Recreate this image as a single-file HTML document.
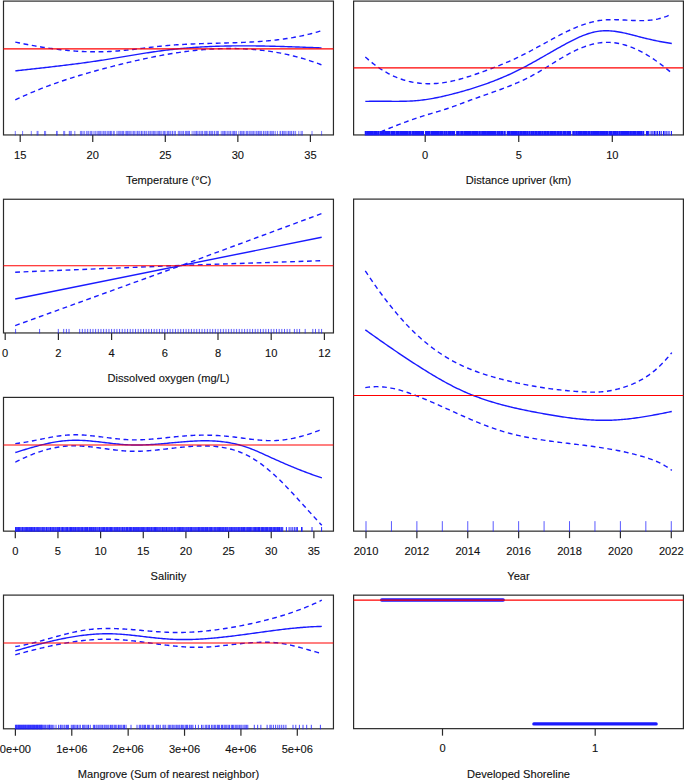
<!DOCTYPE html>
<html><head><meta charset="utf-8"><style>
html,body{margin:0;padding:0;background:#fff;overflow:hidden;width:685px;height:781px;}
svg{display:block;}
text{font-family:"Liberation Sans",sans-serif;font-size:11.1px;fill:#111;stroke:#111;stroke-width:0.12px;}
</style></head><body>
<svg width="685" height="781" viewBox="0 0 685 781">
<rect width="685" height="781" fill="#fff"/>
<rect x="3.5" y="1.1" width="329.95" height="133.85" fill="none" stroke="#2a2a2a" stroke-width="1.2"/>
<path d="M15.30,70.89 L16.81,70.72 L18.32,70.56 L19.83,70.39 L21.33,70.22 L22.84,70.05 L24.35,69.89 L25.86,69.72 L27.37,69.55 L28.88,69.39 L30.38,69.22 L31.89,69.05 L33.40,68.89 L34.91,68.72 L36.42,68.55 L37.93,68.38 L39.43,68.21 L40.94,68.04 L42.45,67.88 L43.96,67.71 L45.47,67.53 L46.98,67.36 L48.48,67.19 L49.99,67.02 L51.50,66.85 L53.01,66.67 L54.52,66.50 L56.03,66.32 L57.53,66.14 L59.04,65.96 L60.55,65.78 L62.06,65.60 L63.57,65.42 L65.08,65.24 L66.58,65.05 L68.09,64.87 L69.60,64.68 L71.11,64.49 L72.62,64.30 L74.13,64.11 L75.63,63.91 L77.14,63.72 L78.65,63.52 L80.16,63.32 L81.67,63.12 L83.18,62.91 L84.69,62.71 L86.19,62.50 L87.70,62.29 L89.21,62.08 L90.72,61.87 L92.23,61.65 L93.74,61.43 L95.24,61.21 L96.75,60.99 L98.26,60.76 L99.77,60.53 L101.28,60.30 L102.79,60.07 L104.29,59.83 L105.80,59.59 L107.31,59.35 L108.82,59.11 L110.33,58.87 L111.84,58.62 L113.34,58.37 L114.85,58.13 L116.36,57.88 L117.87,57.63 L119.38,57.38 L120.89,57.13 L122.39,56.87 L123.90,56.62 L125.41,56.37 L126.92,56.12 L128.43,55.87 L129.94,55.62 L131.44,55.37 L132.95,55.12 L134.46,54.87 L135.97,54.62 L137.48,54.38 L138.99,54.13 L140.50,53.89 L142.00,53.65 L143.51,53.41 L145.02,53.17 L146.53,52.93 L148.04,52.70 L149.55,52.47 L151.05,52.24 L152.56,52.02 L154.07,51.80 L155.58,51.58 L157.09,51.36 L158.60,51.15 L160.10,50.94 L161.61,50.74 L163.12,50.54 L164.63,50.34 L166.14,50.15 L167.65,49.96 L169.15,49.78 L170.66,49.60 L172.17,49.43 L173.68,49.26 L175.19,49.10 L176.70,48.94 L178.20,48.78 L179.71,48.63 L181.22,48.49 L182.73,48.35 L184.24,48.21 L185.75,48.08 L187.25,47.95 L188.76,47.83 L190.27,47.71 L191.78,47.60 L193.29,47.49 L194.80,47.38 L196.30,47.28 L197.81,47.18 L199.32,47.09 L200.83,47.00 L202.34,46.91 L203.85,46.83 L205.36,46.75 L206.86,46.68 L208.37,46.61 L209.88,46.54 L211.39,46.47 L212.90,46.41 L214.41,46.36 L215.91,46.30 L217.42,46.25 L218.93,46.20 L220.44,46.16 L221.95,46.12 L223.46,46.08 L224.96,46.05 L226.47,46.01 L227.98,45.99 L229.49,45.96 L231.00,45.94 L232.51,45.92 L234.01,45.90 L235.52,45.89 L237.03,45.87 L238.54,45.86 L240.05,45.86 L241.56,45.85 L243.06,45.85 L244.57,45.85 L246.08,45.86 L247.59,45.86 L249.10,45.87 L250.61,45.88 L252.11,45.89 L253.62,45.91 L255.13,45.92 L256.64,45.94 L258.15,45.96 L259.66,45.98 L261.17,46.01 L262.67,46.03 L264.18,46.06 L265.69,46.09 L267.20,46.12 L268.71,46.15 L270.22,46.19 L271.72,46.22 L273.23,46.26 L274.74,46.30 L276.25,46.34 L277.76,46.38 L279.27,46.42 L280.77,46.46 L282.28,46.51 L283.79,46.55 L285.30,46.60 L286.81,46.65 L288.32,46.70 L289.82,46.75 L291.33,46.80 L292.84,46.85 L294.35,46.90 L295.86,46.95 L297.37,47.01 L298.87,47.06 L300.38,47.11 L301.89,47.17 L303.40,47.22 L304.91,47.28 L306.42,47.33 L307.92,47.39 L309.43,47.45 L310.94,47.50 L312.45,47.56 L313.96,47.62 L315.47,47.67 L316.97,47.73 L318.48,47.79 L319.99,47.84 L321.50,47.90" fill="none" stroke="#1a1aff" stroke-width="1.4"/>
<path d="M15.30,42.12 L16.81,42.44 L18.32,42.75 L19.83,43.06 L21.33,43.36 L22.84,43.67 L24.35,43.96 L25.86,44.26 L27.37,44.54 L28.88,44.83 L30.38,45.11 L31.89,45.38 L33.40,45.66 L34.91,45.92 L36.42,46.19 L37.93,46.44 L39.43,46.70 L40.94,46.94 L42.45,47.19 L43.96,47.43 L45.47,47.66 L46.98,47.89 L48.48,48.11 L49.99,48.32 L51.50,48.53 L53.01,48.74 L54.52,48.94 L56.03,49.13 L57.53,49.32 L59.04,49.50 L60.55,49.68 L62.06,49.85 L63.57,50.01 L65.08,50.17 L66.58,50.32 L68.09,50.46 L69.60,50.60 L71.11,50.73 L72.62,50.85 L74.13,50.97 L75.63,51.08 L77.14,51.18 L78.65,51.28 L80.16,51.37 L81.67,51.45 L83.18,51.52 L84.69,51.59 L86.19,51.64 L87.70,51.69 L89.21,51.74 L90.72,51.77 L92.23,51.80 L93.74,51.81 L95.24,51.82 L96.75,51.83 L98.26,51.82 L99.77,51.80 L101.28,51.78 L102.79,51.75 L104.29,51.71 L105.80,51.66 L107.31,51.60 L108.82,51.53 L110.33,51.45 L111.84,51.37 L113.34,51.27 L114.85,51.17 L116.36,51.06 L117.87,50.94 L119.38,50.82 L120.89,50.69 L122.39,50.55 L123.90,50.40 L125.41,50.26 L126.92,50.10 L128.43,49.94 L129.94,49.78 L131.44,49.61 L132.95,49.44 L134.46,49.27 L135.97,49.09 L137.48,48.92 L138.99,48.73 L140.50,48.55 L142.00,48.37 L143.51,48.18 L145.02,48.00 L146.53,47.82 L148.04,47.63 L149.55,47.45 L151.05,47.27 L152.56,47.09 L154.07,46.91 L155.58,46.74 L157.09,46.57 L158.60,46.40 L160.10,46.24 L161.61,46.08 L163.12,45.93 L164.63,45.78 L166.14,45.64 L167.65,45.50 L169.15,45.37 L170.66,45.25 L172.17,45.13 L173.68,45.02 L175.19,44.91 L176.70,44.80 L178.20,44.70 L179.71,44.61 L181.22,44.52 L182.73,44.43 L184.24,44.35 L185.75,44.27 L187.25,44.20 L188.76,44.12 L190.27,44.06 L191.78,43.99 L193.29,43.93 L194.80,43.87 L196.30,43.81 L197.81,43.76 L199.32,43.71 L200.83,43.66 L202.34,43.61 L203.85,43.56 L205.36,43.52 L206.86,43.47 L208.37,43.43 L209.88,43.39 L211.39,43.35 L212.90,43.31 L214.41,43.27 L215.91,43.23 L217.42,43.19 L218.93,43.15 L220.44,43.12 L221.95,43.08 L223.46,43.04 L224.96,43.00 L226.47,42.95 L227.98,42.91 L229.49,42.87 L231.00,42.82 L232.51,42.78 L234.01,42.73 L235.52,42.68 L237.03,42.63 L238.54,42.57 L240.05,42.52 L241.56,42.46 L243.06,42.39 L244.57,42.33 L246.08,42.26 L247.59,42.19 L249.10,42.11 L250.61,42.03 L252.11,41.95 L253.62,41.86 L255.13,41.77 L256.64,41.68 L258.15,41.58 L259.66,41.47 L261.17,41.36 L262.67,41.25 L264.18,41.13 L265.69,41.00 L267.20,40.87 L268.71,40.73 L270.22,40.59 L271.72,40.44 L273.23,40.28 L274.74,40.12 L276.25,39.95 L277.76,39.77 L279.27,39.59 L280.77,39.40 L282.28,39.20 L283.79,38.99 L285.30,38.77 L286.81,38.55 L288.32,38.32 L289.82,38.08 L291.33,37.83 L292.84,37.57 L294.35,37.30 L295.86,37.02 L297.37,36.73 L298.87,36.44 L300.38,36.13 L301.89,35.81 L303.40,35.49 L304.91,35.15 L306.42,34.80 L307.92,34.44 L309.43,34.08 L310.94,33.70 L312.45,33.31 L313.96,32.90 L315.47,32.49 L316.97,32.06 L318.48,31.63 L319.99,31.18 L321.50,30.72" fill="none" stroke="#1a1aff" stroke-width="1.4" stroke-dasharray="4.8 3.6"/>
<path d="M15.30,99.91 L16.81,99.19 L18.32,98.47 L19.83,97.77 L21.33,97.07 L22.84,96.38 L24.35,95.70 L25.86,95.03 L27.37,94.37 L28.88,93.71 L30.38,93.06 L31.89,92.42 L33.40,91.79 L34.91,91.16 L36.42,90.54 L37.93,89.93 L39.43,89.32 L40.94,88.72 L42.45,88.13 L43.96,87.55 L45.47,86.97 L46.98,86.40 L48.48,85.84 L49.99,85.28 L51.50,84.73 L53.01,84.18 L54.52,83.64 L56.03,83.11 L57.53,82.58 L59.04,82.05 L60.55,81.54 L62.06,81.03 L63.57,80.52 L65.08,80.02 L66.58,79.52 L68.09,79.03 L69.60,78.55 L71.11,78.07 L72.62,77.59 L74.13,77.12 L75.63,76.66 L77.14,76.19 L78.65,75.74 L80.16,75.28 L81.67,74.83 L83.18,74.39 L84.69,73.95 L86.19,73.51 L87.70,73.08 L89.21,72.65 L90.72,72.22 L92.23,71.80 L93.74,71.38 L95.24,70.96 L96.75,70.55 L98.26,70.14 L99.77,69.73 L101.28,69.32 L102.79,68.92 L104.29,68.52 L105.80,68.12 L107.31,67.73 L108.82,67.34 L110.33,66.95 L111.84,66.56 L113.34,66.17 L114.85,65.79 L116.36,65.41 L117.87,65.03 L119.38,64.65 L120.89,64.28 L122.39,63.90 L123.90,63.53 L125.41,63.17 L126.92,62.80 L128.43,62.44 L129.94,62.08 L131.44,61.72 L132.95,61.37 L134.46,61.02 L135.97,60.67 L137.48,60.33 L138.99,59.99 L140.50,59.65 L142.00,59.32 L143.51,58.99 L145.02,58.66 L146.53,58.34 L148.04,58.02 L149.55,57.71 L151.05,57.40 L152.56,57.09 L154.07,56.79 L155.58,56.49 L157.09,56.19 L158.60,55.90 L160.10,55.62 L161.61,55.34 L163.12,55.06 L164.63,54.79 L166.14,54.52 L167.65,54.26 L169.15,54.01 L170.66,53.75 L172.17,53.51 L173.68,53.26 L175.19,53.03 L176.70,52.80 L178.20,52.57 L179.71,52.35 L181.22,52.13 L182.73,51.92 L184.24,51.72 L185.75,51.52 L187.25,51.33 L188.76,51.14 L190.27,50.96 L191.78,50.79 L193.29,50.62 L194.80,50.45 L196.30,50.29 L197.81,50.14 L199.32,50.00 L200.83,49.86 L202.34,49.73 L203.85,49.60 L205.36,49.48 L206.86,49.37 L208.37,49.26 L209.88,49.16 L211.39,49.07 L212.90,48.98 L214.41,48.90 L215.91,48.83 L217.42,48.77 L218.93,48.71 L220.44,48.66 L221.95,48.61 L223.46,48.57 L224.96,48.54 L226.47,48.52 L227.98,48.51 L229.49,48.50 L231.00,48.50 L232.51,48.51 L234.01,48.52 L235.52,48.55 L237.03,48.58 L238.54,48.62 L240.05,48.66 L241.56,48.72 L243.06,48.78 L244.57,48.85 L246.08,48.93 L247.59,49.02 L249.10,49.12 L250.61,49.22 L252.11,49.34 L253.62,49.46 L255.13,49.59 L256.64,49.73 L258.15,49.87 L259.66,50.03 L261.17,50.20 L262.67,50.37 L264.18,50.55 L265.69,50.75 L267.20,50.95 L268.71,51.16 L270.22,51.38 L271.72,51.61 L273.23,51.85 L274.74,52.09 L276.25,52.35 L277.76,52.62 L279.27,52.90 L280.77,53.18 L282.28,53.48 L283.79,53.78 L285.30,54.10 L286.81,54.43 L288.32,54.76 L289.82,55.11 L291.33,55.46 L292.84,55.83 L294.35,56.21 L295.86,56.60 L297.37,56.99 L298.87,57.40 L300.38,57.82 L301.89,58.25 L303.40,58.69 L304.91,59.14 L306.42,59.60 L307.92,60.07 L309.43,60.56 L310.94,61.05 L312.45,61.56 L313.96,62.07 L315.47,62.60 L316.97,63.14 L318.48,63.69 L319.99,64.25 L321.50,64.83" fill="none" stroke="#1a1aff" stroke-width="1.4" stroke-dasharray="4.8 3.6"/>
<line x1="20.20" y1="134.95" x2="20.20" y2="141.95" stroke="#2a2a2a" stroke-width="1.2"/>
<text x="20.20" y="158.75" text-anchor="middle">15</text>
<line x1="92.75" y1="134.95" x2="92.75" y2="141.95" stroke="#2a2a2a" stroke-width="1.2"/>
<text x="92.75" y="158.75" text-anchor="middle">20</text>
<line x1="165.30" y1="134.95" x2="165.30" y2="141.95" stroke="#2a2a2a" stroke-width="1.2"/>
<text x="165.30" y="158.75" text-anchor="middle">25</text>
<line x1="237.85" y1="134.95" x2="237.85" y2="141.95" stroke="#2a2a2a" stroke-width="1.2"/>
<text x="237.85" y="158.75" text-anchor="middle">30</text>
<line x1="310.40" y1="134.95" x2="310.40" y2="141.95" stroke="#2a2a2a" stroke-width="1.2"/>
<text x="310.40" y="158.75" text-anchor="middle">35</text>
<text x="168.5" y="184.35" text-anchor="middle">Temperature (°C)</text>
<path d="M15.30,130.95V135.45M22.60,130.95V135.45M31.30,130.95V135.45M37.10,130.95V135.45M38.00,130.95V135.45M44.50,130.95V135.45M45.60,130.95V135.45M56.50,130.95V135.45M57.30,130.95V135.45M63.70,130.95V135.45M64.70,130.95V135.45M69.30,130.95V135.45M70.20,130.95V135.45M71.30,130.95V135.45M74.80,130.95V135.45M80.42,130.95V135.45M81.56,130.95V135.45M82.99,130.95V135.45M84.31,130.95V135.45M86.36,130.95V135.45M87.84,130.95V135.45M88.80,130.95V135.45M90.40,130.95V135.45M91.56,130.95V135.45M93.08,130.95V135.45M94.93,130.95V135.45M95.99,130.95V135.45M97.75,130.95V135.45M98.77,130.95V135.45M99.80,130.95V135.45M100.75,130.95V135.45M102.06,130.95V135.45M103.44,130.95V135.45M104.77,130.95V135.45M105.74,130.95V135.45M107.26,130.95V135.45M108.36,130.95V135.45M109.80,130.95V135.45M110.53,130.95V135.45M111.59,130.95V135.45M113.31,130.95V135.45M114.29,130.95V135.45M116.91,130.95V135.45M118.20,130.95V135.45M119.26,130.95V135.45M120.36,130.95V135.45M121.77,130.95V135.45M122.68,130.95V135.45M123.55,130.95V135.45M125.22,130.95V135.45M126.56,130.95V135.45M127.41,130.95V135.45M128.32,130.95V135.45M129.63,130.95V135.45M130.75,130.95V135.45M132.00,130.95V135.45M133.41,130.95V135.45M134.36,130.95V135.45M135.94,130.95V135.45M137.36,130.95V135.45M138.12,130.95V135.45M139.39,130.95V135.45M141.07,130.95V135.45M141.64,130.95V135.45M142.89,130.95V135.45M144.37,130.95V135.45M145.10,130.95V135.45M146.60,130.95V135.45M148.26,130.95V135.45M149.11,130.95V135.45M150.44,130.95V135.45M151.82,130.95V135.45M153.00,130.95V135.45M153.81,130.95V135.45M154.78,130.95V135.45M155.95,130.95V135.45M157.27,130.95V135.45M158.57,130.95V135.45M159.50,130.95V135.45M160.78,130.95V135.45M161.92,130.95V135.45M163.59,130.95V135.45M164.50,130.95V135.45M165.79,130.95V135.45M167.38,130.95V135.45M168.27,130.95V135.45M169.17,130.95V135.45M170.57,130.95V135.45M172.16,130.95V135.45M172.72,130.95V135.45M174.32,130.95V135.45M175.53,130.95V135.45M178.28,130.95V135.45M179.26,130.95V135.45M180.19,130.95V135.45M181.72,130.95V135.45M182.92,130.95V135.45M183.68,130.95V135.45M185.49,130.95V135.45M186.54,130.95V135.45M187.69,130.95V135.45M188.71,130.95V135.45M189.52,130.95V135.45M192.11,130.95V135.45M193.87,130.95V135.45M195.05,130.95V135.45M196.26,130.95V135.45M196.88,130.95V135.45M198.06,130.95V135.45M199.60,130.95V135.45M200.97,130.95V135.45M202.02,130.95V135.45M202.77,130.95V135.45M204.63,130.95V135.45M205.70,130.95V135.45M206.44,130.95V135.45M207.77,130.95V135.45M209.48,130.95V135.45M210.22,130.95V135.45M211.68,130.95V135.45M212.40,130.95V135.45M214.22,130.95V135.45M214.82,130.95V135.45M216.68,130.95V135.45M217.38,130.95V135.45M218.40,130.95V135.45M221.22,130.95V135.45M222.65,130.95V135.45M223.80,130.95V135.45M224.47,130.95V135.45M225.73,130.95V135.45M227.17,130.95V135.45M228.24,130.95V135.45M229.83,130.95V135.45M230.67,130.95V135.45M232.22,130.95V135.45M233.43,130.95V135.45M234.33,130.95V135.45M235.11,130.95V135.45M236.45,130.95V135.45M238.84,130.95V135.45M240.48,130.95V135.45M241.36,130.95V135.45M242.74,130.95V135.45M243.58,130.95V135.45M244.90,130.95V135.45M246.52,130.95V135.45M247.55,130.95V135.45M249.03,130.95V135.45M249.99,130.95V135.45M251.11,130.95V135.45M252.26,130.95V135.45M253.48,130.95V135.45M254.86,130.95V135.45M256.25,130.95V135.45M257.15,130.95V135.45M258.57,130.95V135.45M259.20,130.95V135.45M260.36,130.95V135.45M261.56,130.95V135.45M263.33,130.95V135.45M264.02,130.95V135.45M265.63,130.95V135.45M267.01,130.95V135.45M267.68,130.95V135.45M269.02,130.95V135.45M270.69,130.95V135.45M271.23,130.95V135.45M272.71,130.95V135.45M273.66,130.95V135.45M275.28,130.95V135.45M277.45,130.95V135.45M280.00,130.95V135.45M280.75,130.95V135.45M282.53,130.95V135.45M283.18,130.95V135.45M284.33,130.95V135.45M285.72,130.95V135.45M287.04,130.95V135.45M288.56,130.95V135.45M289.22,130.95V135.45M290.76,130.95V135.45M291.57,130.95V135.45M293.25,130.95V135.45M293.96,130.95V135.45M295.61,130.95V135.45M298.80,130.95V135.45M301.10,130.95V135.45M302.30,130.95V135.45M312.00,130.95V135.45M321.60,130.95V135.45" stroke="#1a1aff" stroke-width="0.9" fill="none" stroke-opacity="0.65"/>
<rect x="353.6" y="1.1" width="329.80" height="133.85" fill="none" stroke="#2a2a2a" stroke-width="1.2"/>
<clipPath id="c2"><rect x="353.6" y="1.1" width="329.79999999999995" height="133.85"/></clipPath>
<path d="M365.30,101.42 L366.81,101.37 L368.32,101.33 L369.83,101.29 L371.34,101.27 L372.85,101.25 L374.36,101.24 L375.87,101.23 L377.38,101.23 L378.89,101.23 L380.40,101.24 L381.91,101.24 L383.42,101.26 L384.93,101.27 L386.44,101.28 L387.95,101.29 L389.46,101.31 L390.97,101.32 L392.48,101.33 L393.99,101.33 L395.50,101.34 L397.01,101.33 L398.52,101.33 L400.03,101.32 L401.54,101.30 L403.05,101.27 L404.56,101.24 L406.07,101.20 L407.58,101.15 L409.09,101.09 L410.60,101.02 L412.11,100.94 L413.62,100.84 L415.13,100.74 L416.63,100.62 L418.14,100.48 L419.65,100.33 L421.16,100.17 L422.67,99.99 L424.18,99.80 L425.69,99.59 L427.20,99.37 L428.71,99.13 L430.22,98.88 L431.73,98.62 L433.24,98.35 L434.75,98.06 L436.26,97.77 L437.77,97.46 L439.28,97.15 L440.79,96.82 L442.30,96.49 L443.81,96.14 L445.32,95.79 L446.83,95.43 L448.34,95.07 L449.85,94.69 L451.36,94.31 L452.87,93.93 L454.38,93.54 L455.89,93.14 L457.40,92.74 L458.91,92.33 L460.42,91.92 L461.93,91.50 L463.44,91.07 L464.95,90.64 L466.46,90.20 L467.97,89.76 L469.48,89.31 L470.99,88.85 L472.50,88.38 L474.01,87.91 L475.52,87.43 L477.03,86.94 L478.54,86.45 L480.05,85.94 L481.56,85.43 L483.07,84.91 L484.58,84.39 L486.09,83.85 L487.60,83.31 L489.11,82.76 L490.62,82.20 L492.13,81.63 L493.64,81.05 L495.15,80.46 L496.66,79.86 L498.17,79.26 L499.68,78.64 L501.19,78.01 L502.70,77.38 L504.21,76.73 L505.72,76.08 L507.23,75.41 L508.74,74.74 L510.25,74.05 L511.76,73.35 L513.27,72.64 L514.78,71.93 L516.29,71.20 L517.80,70.45 L519.30,69.70 L520.81,68.94 L522.32,68.16 L523.83,67.38 L525.34,66.58 L526.85,65.77 L528.36,64.96 L529.87,64.14 L531.38,63.31 L532.89,62.47 L534.40,61.63 L535.91,60.78 L537.42,59.93 L538.93,59.08 L540.44,58.22 L541.95,57.35 L543.46,56.49 L544.97,55.62 L546.48,54.76 L547.99,53.89 L549.50,53.02 L551.01,52.16 L552.52,51.29 L554.03,50.43 L555.54,49.57 L557.05,48.72 L558.56,47.87 L560.07,47.02 L561.58,46.18 L563.09,45.35 L564.60,44.52 L566.11,43.71 L567.62,42.90 L569.13,42.10 L570.64,41.32 L572.15,40.55 L573.66,39.79 L575.17,39.06 L576.68,38.34 L578.19,37.65 L579.70,36.98 L581.21,36.33 L582.72,35.71 L584.23,35.12 L585.74,34.56 L587.25,34.03 L588.76,33.54 L590.27,33.08 L591.78,32.65 L593.29,32.26 L594.80,31.92 L596.31,31.61 L597.82,31.35 L599.33,31.13 L600.84,30.96 L602.35,30.84 L603.86,30.76 L605.37,30.72 L606.88,30.72 L608.39,30.76 L609.90,30.84 L611.41,30.95 L612.92,31.10 L614.43,31.27 L615.94,31.47 L617.45,31.70 L618.96,31.95 L620.47,32.23 L621.97,32.53 L623.48,32.84 L624.99,33.17 L626.50,33.52 L628.01,33.88 L629.52,34.25 L631.03,34.63 L632.54,35.01 L634.05,35.40 L635.56,35.79 L637.07,36.19 L638.58,36.58 L640.09,36.97 L641.60,37.35 L643.11,37.73 L644.62,38.10 L646.13,38.47 L647.64,38.83 L649.15,39.18 L650.66,39.53 L652.17,39.87 L653.68,40.20 L655.19,40.53 L656.70,40.84 L658.21,41.15 L659.72,41.45 L661.23,41.74 L662.74,42.01 L664.25,42.28 L665.76,42.54 L667.27,42.79 L668.78,43.03 L670.29,43.26 L671.80,43.47" fill="none" stroke="#1a1aff" stroke-width="1.4"/>
<path d="M365.30,56.93 L366.81,58.30 L368.32,59.62 L369.83,60.90 L371.34,62.15 L372.85,63.35 L374.36,64.52 L375.87,65.65 L377.38,66.73 L378.89,67.78 L380.40,68.80 L381.91,69.77 L383.42,70.71 L384.93,71.61 L386.44,72.48 L387.95,73.31 L389.46,74.11 L390.97,74.87 L392.48,75.59 L393.99,76.29 L395.50,76.95 L397.01,77.57 L398.52,78.16 L400.03,78.72 L401.54,79.25 L403.05,79.75 L404.56,80.21 L406.07,80.65 L407.58,81.05 L409.09,81.43 L410.60,81.77 L412.11,82.08 L413.62,82.37 L415.13,82.63 L416.63,82.86 L418.14,83.06 L419.65,83.23 L421.16,83.38 L422.67,83.50 L424.18,83.59 L425.69,83.66 L427.20,83.71 L428.71,83.72 L430.22,83.72 L431.73,83.69 L433.24,83.63 L434.75,83.55 L436.26,83.45 L437.77,83.33 L439.28,83.18 L440.79,83.02 L442.30,82.83 L443.81,82.62 L445.32,82.39 L446.83,82.13 L448.34,81.86 L449.85,81.57 L451.36,81.26 L452.87,80.94 L454.38,80.59 L455.89,80.23 L457.40,79.84 L458.91,79.45 L460.42,79.04 L461.93,78.61 L463.44,78.17 L464.95,77.72 L466.46,77.26 L467.97,76.78 L469.48,76.30 L470.99,75.80 L472.50,75.30 L474.01,74.79 L475.52,74.27 L477.03,73.75 L478.54,73.22 L480.05,72.68 L481.56,72.15 L483.07,71.60 L484.58,71.06 L486.09,70.51 L487.60,69.95 L489.11,69.39 L490.62,68.83 L492.13,68.26 L493.64,67.68 L495.15,67.10 L496.66,66.51 L498.17,65.91 L499.68,65.31 L501.19,64.70 L502.70,64.09 L504.21,63.46 L505.72,62.83 L507.23,62.19 L508.74,61.54 L510.25,60.88 L511.76,60.21 L513.27,59.53 L514.78,58.84 L516.29,58.13 L517.80,57.42 L519.30,56.69 L520.81,55.96 L522.32,55.21 L523.83,54.45 L525.34,53.67 L526.85,52.89 L528.36,52.10 L529.87,51.31 L531.38,50.50 L532.89,49.69 L534.40,48.87 L535.91,48.05 L537.42,47.23 L538.93,46.40 L540.44,45.57 L541.95,44.74 L543.46,43.91 L544.97,43.08 L546.48,42.25 L547.99,41.42 L549.50,40.60 L551.01,39.78 L552.52,38.96 L554.03,38.15 L555.54,37.34 L557.05,36.54 L558.56,35.75 L560.07,34.97 L561.58,34.20 L563.09,33.43 L564.60,32.68 L566.11,31.94 L567.62,31.21 L569.13,30.50 L570.64,29.80 L572.15,29.12 L573.66,28.45 L575.17,27.81 L576.68,27.18 L578.19,26.56 L579.70,25.97 L581.21,25.41 L582.72,24.86 L584.23,24.33 L585.74,23.83 L587.25,23.36 L588.76,22.91 L590.27,22.49 L591.78,22.09 L593.29,21.72 L594.80,21.38 L596.31,21.08 L597.82,20.80 L599.33,20.56 L600.84,20.35 L602.35,20.17 L603.86,20.02 L605.37,19.90 L606.88,19.81 L608.39,19.74 L609.90,19.69 L611.41,19.67 L612.92,19.66 L614.43,19.67 L615.94,19.70 L617.45,19.74 L618.96,19.79 L620.47,19.85 L621.97,19.92 L623.48,19.99 L624.99,20.07 L626.50,20.15 L628.01,20.23 L629.52,20.31 L631.03,20.38 L632.54,20.45 L634.05,20.51 L635.56,20.56 L637.07,20.60 L638.58,20.63 L640.09,20.64 L641.60,20.63 L643.11,20.61 L644.62,20.56 L646.13,20.49 L647.64,20.39 L649.15,20.27 L650.66,20.12 L652.17,19.94 L653.68,19.73 L655.19,19.48 L656.70,19.20 L658.21,18.88 L659.72,18.51 L661.23,18.11 L662.74,17.66 L664.25,17.17 L665.76,16.62 L667.27,16.03 L668.78,15.39 L670.29,14.69 L671.80,13.94" fill="none" stroke="#1a1aff" stroke-width="1.4" stroke-dasharray="4.8 3.6"/>
<path d="M365.30,138.61 L366.81,137.95 L368.32,137.28 L369.83,136.61 L371.34,135.95 L372.85,135.29 L374.36,134.64 L375.87,133.98 L377.38,133.33 L378.89,132.68 L380.40,132.04 L381.91,131.40 L383.42,130.76 L384.93,130.13 L386.44,129.50 L387.95,128.88 L389.46,128.26 L390.97,127.64 L392.48,127.03 L393.99,126.43 L395.50,125.83 L397.01,125.23 L398.52,124.65 L400.03,124.06 L401.54,123.49 L403.05,122.92 L404.56,122.35 L406.07,121.79 L407.58,121.24 L409.09,120.70 L410.60,120.16 L412.11,119.63 L413.62,119.11 L415.13,118.59 L416.63,118.09 L418.14,117.59 L419.65,117.10 L421.16,116.61 L422.67,116.14 L424.18,115.67 L425.69,115.21 L427.20,114.75 L428.71,114.29 L430.22,113.84 L431.73,113.39 L433.24,112.94 L434.75,112.49 L436.26,112.04 L437.77,111.59 L439.28,111.13 L440.79,110.67 L442.30,110.21 L443.81,109.73 L445.32,109.25 L446.83,108.77 L448.34,108.27 L449.85,107.76 L451.36,107.24 L452.87,106.71 L454.38,106.17 L455.89,105.61 L457.40,105.05 L458.91,104.48 L460.42,103.90 L461.93,103.33 L463.44,102.75 L464.95,102.18 L466.46,101.61 L467.97,101.05 L469.48,100.49 L470.99,99.94 L472.50,99.40 L474.01,98.86 L475.52,98.32 L477.03,97.79 L478.54,97.25 L480.05,96.72 L481.56,96.20 L483.07,95.67 L484.58,95.14 L486.09,94.62 L487.60,94.09 L489.11,93.56 L490.62,93.03 L492.13,92.50 L493.64,91.96 L495.15,91.43 L496.66,90.88 L498.17,90.34 L499.68,89.78 L501.19,89.22 L502.70,88.66 L504.21,88.09 L505.72,87.51 L507.23,86.92 L508.74,86.33 L510.25,85.73 L511.76,85.11 L513.27,84.49 L514.78,83.85 L516.29,83.21 L517.80,82.55 L519.30,81.88 L520.81,81.20 L522.32,80.50 L523.83,79.79 L525.34,79.07 L526.85,78.33 L528.36,77.57 L529.87,76.80 L531.38,76.01 L532.89,75.20 L534.40,74.38 L535.91,73.54 L537.42,72.68 L538.93,71.80 L540.44,70.91 L541.95,70.01 L543.46,69.10 L544.97,68.18 L546.48,67.26 L547.99,66.33 L549.50,65.39 L551.01,64.46 L552.52,63.52 L554.03,62.58 L555.54,61.65 L557.05,60.73 L558.56,59.81 L560.07,58.90 L561.58,58.00 L563.09,57.11 L564.60,56.23 L566.11,55.37 L567.62,54.53 L569.13,53.70 L570.64,52.90 L572.15,52.12 L573.66,51.36 L575.17,50.63 L576.68,49.92 L578.19,49.24 L579.70,48.58 L581.21,47.96 L582.72,47.36 L584.23,46.79 L585.74,46.25 L587.25,45.75 L588.76,45.27 L590.27,44.83 L591.78,44.42 L593.29,44.05 L594.80,43.71 L596.31,43.41 L597.82,43.14 L599.33,42.91 L600.84,42.72 L602.35,42.57 L603.86,42.46 L605.37,42.39 L606.88,42.36 L608.39,42.37 L609.90,42.42 L611.41,42.51 L612.92,42.64 L614.43,42.81 L615.94,43.01 L617.45,43.26 L618.96,43.54 L620.47,43.85 L621.97,44.21 L623.48,44.60 L624.99,45.02 L626.50,45.48 L628.01,45.98 L629.52,46.50 L631.03,47.07 L632.54,47.66 L634.05,48.29 L635.56,48.95 L637.07,49.64 L638.58,50.36 L640.09,51.11 L641.60,51.90 L643.11,52.71 L644.62,53.55 L646.13,54.42 L647.64,55.32 L649.15,56.25 L650.66,57.20 L652.17,58.18 L653.68,59.19 L655.19,60.22 L656.70,61.28 L658.21,62.36 L659.72,63.47 L661.23,64.60 L662.74,65.76 L664.25,66.94 L665.76,68.14 L667.27,69.36 L668.78,70.61 L670.29,71.87 L671.80,73.16" fill="none" stroke="#1a1aff" stroke-width="1.4" stroke-dasharray="4.8 3.6" clip-path="url(#c2)"/>
<line x1="425.20" y1="134.95" x2="425.20" y2="141.95" stroke="#2a2a2a" stroke-width="1.2"/>
<text x="425.20" y="158.75" text-anchor="middle">0</text>
<line x1="518.75" y1="134.95" x2="518.75" y2="141.95" stroke="#2a2a2a" stroke-width="1.2"/>
<text x="518.75" y="158.75" text-anchor="middle">5</text>
<line x1="612.30" y1="134.95" x2="612.30" y2="141.95" stroke="#2a2a2a" stroke-width="1.2"/>
<text x="612.30" y="158.75" text-anchor="middle">10</text>
<text x="518.5" y="184.35" text-anchor="middle">Distance upriver (km)</text>
<path d="M365.29,130.95V135.45M366.23,130.95V135.45M367.38,130.95V135.45M368.38,130.95V135.45M369.18,130.95V135.45M370.26,130.95V135.45M371.00,130.95V135.45M371.93,130.95V135.45M373.01,130.95V135.45M374.18,130.95V135.45M375.00,130.95V135.45M375.87,130.95V135.45M376.78,130.95V135.45M377.97,130.95V135.45M378.64,130.95V135.45M379.97,130.95V135.45M380.86,130.95V135.45M381.65,130.95V135.45M382.55,130.95V135.45M383.64,130.95V135.45M384.42,130.95V135.45M385.55,130.95V135.45M386.35,130.95V135.45M387.13,130.95V135.45M388.09,130.95V135.45M389.13,130.95V135.45M389.99,130.95V135.45M391.34,130.95V135.45M391.99,130.95V135.45M392.95,130.95V135.45M393.83,130.95V135.45M394.83,130.95V135.45M396.14,130.95V135.45M396.72,130.95V135.45M397.70,130.95V135.45M398.50,130.95V135.45M399.69,130.95V135.45M400.50,130.95V135.45M401.35,130.95V135.45M402.34,130.95V135.45M403.27,130.95V135.45M404.35,130.95V135.45M405.44,130.95V135.45M406.48,130.95V135.45M407.41,130.95V135.45M408.19,130.95V135.45M409.44,130.95V135.45M410.26,130.95V135.45M410.87,130.95V135.45M412.25,130.95V135.45M413.12,130.95V135.45M413.77,130.95V135.45M414.90,130.95V135.45M416.00,130.95V135.45M416.84,130.95V135.45M417.84,130.95V135.45M418.56,130.95V135.45M419.47,130.95V135.45M420.40,130.95V135.45M421.58,130.95V135.45M422.56,130.95V135.45M423.44,130.95V135.45M425.47,130.95V135.45M426.32,130.95V135.45M427.03,130.95V135.45M428.08,130.95V135.45M429.03,130.95V135.45M429.95,130.95V135.45M431.29,130.95V135.45M431.94,130.95V135.45M433.04,130.95V135.45M433.96,130.95V135.45M434.64,130.95V135.45M435.68,130.95V135.45M436.65,130.95V135.45M437.46,130.95V135.45M438.53,130.95V135.45M439.70,130.95V135.45M440.45,130.95V135.45M441.48,130.95V135.45M442.26,130.95V135.45M443.25,130.95V135.45M444.57,130.95V135.45M445.28,130.95V135.45M446.48,130.95V135.45M447.08,130.95V135.45M448.37,130.95V135.45M449.14,130.95V135.45M450.06,130.95V135.45M450.82,130.95V135.45M451.95,130.95V135.45M453.00,130.95V135.45M454.05,130.95V135.45M454.56,130.95V135.45M456.68,130.95V135.45M457.47,130.95V135.45M458.51,130.95V135.45M459.30,130.95V135.45M460.67,130.95V135.45M461.66,130.95V135.45M462.60,130.95V135.45M463.29,130.95V135.45M464.55,130.95V135.45M465.18,130.95V135.45M466.09,130.95V135.45M466.95,130.95V135.45M467.99,130.95V135.45M468.92,130.95V135.45M470.01,130.95V135.45M470.89,130.95V135.45M472.09,130.95V135.45M472.92,130.95V135.45M474.02,130.95V135.45M474.86,130.95V135.45M475.82,130.95V135.45M476.78,130.95V135.45M477.49,130.95V135.45M478.76,130.95V135.45M479.49,130.95V135.45M480.35,130.95V135.45M481.64,130.95V135.45M482.43,130.95V135.45M483.33,130.95V135.45M484.08,130.95V135.45M485.05,130.95V135.45M486.15,130.95V135.45M487.30,130.95V135.45M488.02,130.95V135.45M488.85,130.95V135.45M489.87,130.95V135.45M490.77,130.95V135.45M491.88,130.95V135.45M492.92,130.95V135.45M493.71,130.95V135.45M494.64,130.95V135.45M495.43,130.95V135.45M496.83,130.95V135.45M497.55,130.95V135.45M498.68,130.95V135.45M499.34,130.95V135.45M500.35,130.95V135.45M501.58,130.95V135.45M502.49,130.95V135.45M503.02,130.95V135.45M504.40,130.95V135.45M505.19,130.95V135.45M507.26,130.95V135.45M508.18,130.95V135.45M508.82,130.95V135.45M509.73,130.95V135.45M510.94,130.95V135.45M511.91,130.95V135.45M512.88,130.95V135.45M513.73,130.95V135.45M514.79,130.95V135.45M515.81,130.95V135.45M516.45,130.95V135.45M517.38,130.95V135.45M518.55,130.95V135.45M519.19,130.95V135.45M520.39,130.95V135.45M521.16,130.95V135.45M522.01,130.95V135.45M523.18,130.95V135.45M524.22,130.95V135.45M525.09,130.95V135.45M525.92,130.95V135.45M527.10,130.95V135.45M527.71,130.95V135.45M528.99,130.95V135.45M529.73,130.95V135.45M531.01,130.95V135.45M531.52,130.95V135.45M532.66,130.95V135.45M533.50,130.95V135.45M534.72,130.95V135.45M535.40,130.95V135.45M536.41,130.95V135.45M537.32,130.95V135.45M538.53,130.95V135.45M539.58,130.95V135.45M540.14,130.95V135.45M541.21,130.95V135.45M542.42,130.95V135.45M543.10,130.95V135.45M544.34,130.95V135.45M544.83,130.95V135.45M545.95,130.95V135.45M547.14,130.95V135.45M548.15,130.95V135.45M548.76,130.95V135.45M550.02,130.95V135.45M550.52,130.95V135.45M551.64,130.95V135.45M552.57,130.95V135.45M553.35,130.95V135.45M554.48,130.95V135.45M555.31,130.95V135.45M556.30,130.95V135.45M557.56,130.95V135.45M558.32,130.95V135.45M559.29,130.95V135.45M560.46,130.95V135.45M561.13,130.95V135.45M561.92,130.95V135.45M563.26,130.95V135.45M563.82,130.95V135.45M564.78,130.95V135.45M565.83,130.95V135.45M567.10,130.95V135.45M567.74,130.95V135.45M568.86,130.95V135.45M569.86,130.95V135.45M570.59,130.95V135.45M572.81,130.95V135.45M573.77,130.95V135.45M574.37,130.95V135.45M575.68,130.95V135.45M576.34,130.95V135.45M577.31,130.95V135.45M578.51,130.95V135.45M579.40,130.95V135.45M580.36,130.95V135.45M581.20,130.95V135.45M582.01,130.95V135.45M583.19,130.95V135.45M583.85,130.95V135.45M584.82,130.95V135.45M585.67,130.95V135.45M586.76,130.95V135.45M587.99,130.95V135.45M588.63,130.95V135.45M589.50,130.95V135.45M590.75,130.95V135.45M591.47,130.95V135.45M592.61,130.95V135.45M593.62,130.95V135.45M594.53,130.95V135.45M595.57,130.95V135.45M596.38,130.95V135.45M597.42,130.95V135.45M598.12,130.95V135.45M599.03,130.95V135.45M600.19,130.95V135.45M601.05,130.95V135.45M602.05,130.95V135.45M603.15,130.95V135.45M604.20,130.95V135.45M604.89,130.95V135.45M606.02,130.95V135.45M606.57,130.95V135.45M607.56,130.95V135.45M608.94,130.95V135.45M609.87,130.95V135.45M610.78,130.95V135.45M611.43,130.95V135.45M612.72,130.95V135.45M613.50,130.95V135.45M614.26,130.95V135.45M615.17,130.95V135.45M616.18,130.95V135.45M617.33,130.95V135.45M617.96,130.95V135.45M619.24,130.95V135.45M620.01,130.95V135.45M621.20,130.95V135.45M621.78,130.95V135.45M622.90,130.95V135.45M623.97,130.95V135.45M624.68,130.95V135.45M625.75,130.95V135.45M626.65,130.95V135.45M627.61,130.95V135.45M628.58,130.95V135.45M629.78,130.95V135.45M630.48,130.95V135.45M631.61,130.95V135.45M632.20,130.95V135.45M633.36,130.95V135.45M634.30,130.95V135.45M635.28,130.95V135.45M636.01,130.95V135.45M637.27,130.95V135.45M637.94,130.95V135.45M639.04,130.95V135.45M639.87,130.95V135.45M641.01,130.95V135.45M641.75,130.95V135.45M643.05,130.95V135.45M643.70,130.95V135.45M646.50,130.95V135.45M647.60,130.95V135.45M648.80,130.95V135.45M651.10,130.95V135.45M652.90,130.95V135.45M654.50,130.95V135.45M656.00,130.95V135.45M657.60,130.95V135.45M659.50,130.95V135.45M661.20,130.95V135.45M663.50,130.95V135.45M665.00,130.95V135.45M666.90,130.95V135.45M669.00,130.95V135.45M671.40,130.95V135.45" stroke="#1a1aff" stroke-width="1.1" fill="none" stroke-opacity="1.0"/>
<rect x="3.5" y="199.25" width="329.95" height="133.70" fill="none" stroke="#2a2a2a" stroke-width="1.2"/>
<path d="M15.20,299.00 L321.70,237.20" fill="none" stroke="#1a1aff" stroke-width="1.4"/>
<path d="M15.20,272.20 L181.50,265.40 L321.70,213.60" fill="none" stroke="#1a1aff" stroke-width="1.4" stroke-dasharray="4.8 3.6"/>
<path d="M15.20,325.60 L181.50,265.40 L321.70,260.70" fill="none" stroke="#1a1aff" stroke-width="1.4" stroke-dasharray="4.8 3.6"/>
<line x1="5.20" y1="332.95" x2="5.20" y2="339.95" stroke="#2a2a2a" stroke-width="1.2"/>
<text x="5.20" y="356.75" text-anchor="middle">0</text>
<line x1="58.40" y1="332.95" x2="58.40" y2="339.95" stroke="#2a2a2a" stroke-width="1.2"/>
<text x="58.40" y="356.75" text-anchor="middle">2</text>
<line x1="111.60" y1="332.95" x2="111.60" y2="339.95" stroke="#2a2a2a" stroke-width="1.2"/>
<text x="111.60" y="356.75" text-anchor="middle">4</text>
<line x1="164.80" y1="332.95" x2="164.80" y2="339.95" stroke="#2a2a2a" stroke-width="1.2"/>
<text x="164.80" y="356.75" text-anchor="middle">6</text>
<line x1="218.00" y1="332.95" x2="218.00" y2="339.95" stroke="#2a2a2a" stroke-width="1.2"/>
<text x="218.00" y="356.75" text-anchor="middle">8</text>
<line x1="271.20" y1="332.95" x2="271.20" y2="339.95" stroke="#2a2a2a" stroke-width="1.2"/>
<text x="271.20" y="356.75" text-anchor="middle">10</text>
<line x1="324.40" y1="332.95" x2="324.40" y2="339.95" stroke="#2a2a2a" stroke-width="1.2"/>
<text x="324.40" y="356.75" text-anchor="middle">12</text>
<text x="168.5" y="382.25" text-anchor="middle">Dissolved oxygen (mg/L)</text>
<path d="M15.60,328.95V333.45M39.60,328.95V333.45M58.30,328.95V333.45M63.70,328.95V333.45M66.40,328.95V333.45M69.00,328.95V333.45M79.68,328.95V333.45M82.34,328.95V333.45M85.00,328.95V333.45M87.66,328.95V333.45M90.32,328.95V333.45M92.98,328.95V333.45M95.64,328.95V333.45M98.30,328.95V333.45M100.96,328.95V333.45M103.62,328.95V333.45M106.28,328.95V333.45M108.94,328.95V333.45M111.60,328.95V333.45M114.26,328.95V333.45M116.92,328.95V333.45M119.58,328.95V333.45M122.24,328.95V333.45M124.90,328.95V333.45M127.56,328.95V333.45M130.22,328.95V333.45M132.88,328.95V333.45M135.54,328.95V333.45M138.20,328.95V333.45M140.86,328.95V333.45M143.52,328.95V333.45M146.18,328.95V333.45M148.84,328.95V333.45M151.50,328.95V333.45M154.16,328.95V333.45M156.82,328.95V333.45M159.48,328.95V333.45M162.14,328.95V333.45M164.80,328.95V333.45M167.46,328.95V333.45M170.12,328.95V333.45M172.78,328.95V333.45M175.44,328.95V333.45M178.10,328.95V333.45M180.76,328.95V333.45M183.42,328.95V333.45M186.08,328.95V333.45M188.74,328.95V333.45M191.40,328.95V333.45M194.06,328.95V333.45M196.72,328.95V333.45M199.38,328.95V333.45M202.04,328.95V333.45M204.70,328.95V333.45M207.36,328.95V333.45M210.02,328.95V333.45M212.68,328.95V333.45M215.34,328.95V333.45M218.00,328.95V333.45M220.66,328.95V333.45M223.32,328.95V333.45M225.98,328.95V333.45M228.64,328.95V333.45M231.30,328.95V333.45M233.96,328.95V333.45M236.62,328.95V333.45M239.28,328.95V333.45M241.94,328.95V333.45M244.60,328.95V333.45M247.26,328.95V333.45M249.92,328.95V333.45M252.58,328.95V333.45M255.24,328.95V333.45M257.90,328.95V333.45M260.56,328.95V333.45M263.22,328.95V333.45M265.88,328.95V333.45M268.54,328.95V333.45M271.20,328.95V333.45M273.86,328.95V333.45M276.52,328.95V333.45M279.18,328.95V333.45M281.84,328.95V333.45M284.50,328.95V333.45M287.16,328.95V333.45M289.82,328.95V333.45M294.40,328.95V333.45M297.00,328.95V333.45M299.60,328.95V333.45M305.20,328.95V333.45M312.80,328.95V333.45M315.50,328.95V333.45M318.90,328.95V333.45M321.60,328.95V333.45" stroke="#1a1aff" stroke-width="0.9" fill="none" stroke-opacity="0.8"/>
<rect x="353.6" y="199.1" width="329.80" height="332.05" fill="none" stroke="#2a2a2a" stroke-width="1.2"/>
<path d="M365.30,329.83 L366.81,330.91 L368.32,332.00 L369.83,333.08 L371.34,334.16 L372.85,335.23 L374.36,336.30 L375.87,337.37 L377.38,338.44 L378.89,339.50 L380.40,340.57 L381.91,341.62 L383.42,342.68 L384.93,343.73 L386.44,344.78 L387.95,345.83 L389.46,346.87 L390.97,347.91 L392.48,348.94 L393.99,349.98 L395.50,351.01 L397.01,352.03 L398.52,353.05 L400.03,354.07 L401.54,355.08 L403.05,356.09 L404.56,357.10 L406.07,358.10 L407.58,359.10 L409.09,360.09 L410.60,361.08 L412.11,362.06 L413.62,363.04 L415.13,364.02 L416.63,364.99 L418.14,365.96 L419.65,366.92 L421.16,367.88 L422.67,368.83 L424.18,369.77 L425.69,370.71 L427.20,371.65 L428.71,372.58 L430.22,373.50 L431.73,374.41 L433.24,375.32 L434.75,376.22 L436.26,377.11 L437.77,377.99 L439.28,378.87 L440.79,379.73 L442.30,380.58 L443.81,381.43 L445.32,382.26 L446.83,383.08 L448.34,383.90 L449.85,384.70 L451.36,385.49 L452.87,386.26 L454.38,387.03 L455.89,387.78 L457.40,388.52 L458.91,389.24 L460.42,389.95 L461.93,390.65 L463.44,391.33 L464.95,392.00 L466.46,392.66 L467.97,393.30 L469.48,393.93 L470.99,394.55 L472.50,395.16 L474.01,395.75 L475.52,396.33 L477.03,396.90 L478.54,397.45 L480.05,398.00 L481.56,398.54 L483.07,399.06 L484.58,399.57 L486.09,400.08 L487.60,400.57 L489.11,401.05 L490.62,401.52 L492.13,401.99 L493.64,402.44 L495.15,402.89 L496.66,403.32 L498.17,403.75 L499.68,404.17 L501.19,404.58 L502.70,404.98 L504.21,405.38 L505.72,405.77 L507.23,406.15 L508.74,406.52 L510.25,406.89 L511.76,407.25 L513.27,407.60 L514.78,407.95 L516.29,408.29 L517.80,408.63 L519.30,408.96 L520.81,409.28 L522.32,409.61 L523.83,409.92 L525.34,410.23 L526.85,410.54 L528.36,410.84 L529.87,411.14 L531.38,411.44 L532.89,411.73 L534.40,412.02 L535.91,412.31 L537.42,412.59 L538.93,412.87 L540.44,413.15 L541.95,413.43 L543.46,413.70 L544.97,413.97 L546.48,414.24 L547.99,414.51 L549.50,414.77 L551.01,415.03 L552.52,415.29 L554.03,415.54 L555.54,415.79 L557.05,416.03 L558.56,416.27 L560.07,416.50 L561.58,416.73 L563.09,416.96 L564.60,417.18 L566.11,417.39 L567.62,417.60 L569.13,417.80 L570.64,418.00 L572.15,418.19 L573.66,418.37 L575.17,418.54 L576.68,418.71 L578.19,418.88 L579.70,419.03 L581.21,419.18 L582.72,419.32 L584.23,419.45 L585.74,419.57 L587.25,419.69 L588.76,419.79 L590.27,419.89 L591.78,419.98 L593.29,420.05 L594.80,420.12 L596.31,420.18 L597.82,420.23 L599.33,420.27 L600.84,420.30 L602.35,420.32 L603.86,420.32 L605.37,420.32 L606.88,420.31 L608.39,420.28 L609.90,420.24 L611.41,420.19 L612.92,420.13 L614.43,420.06 L615.94,419.97 L617.45,419.88 L618.96,419.77 L620.47,419.66 L621.97,419.53 L623.48,419.40 L624.99,419.25 L626.50,419.10 L628.01,418.94 L629.52,418.77 L631.03,418.59 L632.54,418.40 L634.05,418.20 L635.56,418.00 L637.07,417.79 L638.58,417.57 L640.09,417.34 L641.60,417.11 L643.11,416.87 L644.62,416.63 L646.13,416.38 L647.64,416.12 L649.15,415.86 L650.66,415.60 L652.17,415.33 L653.68,415.05 L655.19,414.77 L656.70,414.49 L658.21,414.21 L659.72,413.92 L661.23,413.62 L662.74,413.33 L664.25,413.03 L665.76,412.73 L667.27,412.42 L668.78,412.12 L670.29,411.81 L671.80,411.51" fill="none" stroke="#1a1aff" stroke-width="1.4"/>
<path d="M365.30,270.93 L366.81,273.22 L368.32,275.48 L369.83,277.72 L371.34,279.93 L372.85,282.13 L374.36,284.30 L375.87,286.44 L377.38,288.56 L378.89,290.66 L380.40,292.73 L381.91,294.78 L383.42,296.80 L384.93,298.80 L386.44,300.77 L387.95,302.72 L389.46,304.64 L390.97,306.54 L392.48,308.41 L393.99,310.25 L395.50,312.07 L397.01,313.85 L398.52,315.62 L400.03,317.35 L401.54,319.06 L403.05,320.74 L404.56,322.39 L406.07,324.01 L407.58,325.61 L409.09,327.17 L410.60,328.71 L412.11,330.22 L413.62,331.70 L415.13,333.15 L416.63,334.57 L418.14,335.97 L419.65,337.34 L421.16,338.68 L422.67,339.99 L424.18,341.28 L425.69,342.54 L427.20,343.78 L428.71,344.99 L430.22,346.17 L431.73,347.33 L433.24,348.46 L434.75,349.57 L436.26,350.66 L437.77,351.71 L439.28,352.75 L440.79,353.76 L442.30,354.75 L443.81,355.71 L445.32,356.65 L446.83,357.57 L448.34,358.46 L449.85,359.33 L451.36,360.19 L452.87,361.01 L454.38,361.82 L455.89,362.61 L457.40,363.38 L458.91,364.13 L460.42,364.86 L461.93,365.57 L463.44,366.27 L464.95,366.94 L466.46,367.60 L467.97,368.25 L469.48,368.87 L470.99,369.48 L472.50,370.08 L474.01,370.66 L475.52,371.23 L477.03,371.78 L478.54,372.32 L480.05,372.85 L481.56,373.36 L483.07,373.87 L484.58,374.36 L486.09,374.84 L487.60,375.31 L489.11,375.77 L490.62,376.22 L492.13,376.66 L493.64,377.09 L495.15,377.52 L496.66,377.93 L498.17,378.34 L499.68,378.75 L501.19,379.14 L502.70,379.53 L504.21,379.92 L505.72,380.29 L507.23,380.66 L508.74,381.03 L510.25,381.39 L511.76,381.74 L513.27,382.09 L514.78,382.43 L516.29,382.76 L517.80,383.09 L519.30,383.41 L520.81,383.73 L522.32,384.04 L523.83,384.34 L525.34,384.64 L526.85,384.93 L528.36,385.22 L529.87,385.50 L531.38,385.77 L532.89,386.04 L534.40,386.31 L535.91,386.56 L537.42,386.81 L538.93,387.06 L540.44,387.30 L541.95,387.54 L543.46,387.77 L544.97,387.99 L546.48,388.21 L547.99,388.42 L549.50,388.63 L551.01,388.83 L552.52,389.02 L554.03,389.21 L555.54,389.40 L557.05,389.58 L558.56,389.75 L560.07,389.92 L561.58,390.09 L563.09,390.24 L564.60,390.40 L566.11,390.55 L567.62,390.69 L569.13,390.83 L570.64,390.96 L572.15,391.09 L573.66,391.21 L575.17,391.33 L576.68,391.44 L578.19,391.55 L579.70,391.65 L581.21,391.75 L582.72,391.84 L584.23,391.92 L585.74,391.99 L587.25,392.06 L588.76,392.11 L590.27,392.14 L591.78,392.17 L593.29,392.17 L594.80,392.15 L596.31,392.12 L597.82,392.06 L599.33,391.98 L600.84,391.88 L602.35,391.75 L603.86,391.59 L605.37,391.41 L606.88,391.21 L608.39,390.98 L609.90,390.73 L611.41,390.45 L612.92,390.15 L614.43,389.83 L615.94,389.48 L617.45,389.12 L618.96,388.73 L620.47,388.32 L621.97,387.88 L623.48,387.43 L624.99,386.94 L626.50,386.44 L628.01,385.90 L629.52,385.34 L631.03,384.74 L632.54,384.12 L634.05,383.46 L635.56,382.77 L637.07,382.04 L638.58,381.28 L640.09,380.48 L641.60,379.64 L643.11,378.76 L644.62,377.84 L646.13,376.87 L647.64,375.86 L649.15,374.81 L650.66,373.70 L652.17,372.55 L653.68,371.35 L655.19,370.10 L656.70,368.79 L658.21,367.44 L659.72,366.02 L661.23,364.55 L662.74,363.03 L664.25,361.44 L665.76,359.79 L667.27,358.08 L668.78,356.31 L670.29,354.47 L671.80,352.56" fill="none" stroke="#1a1aff" stroke-width="1.4" stroke-dasharray="4.8 3.6"/>
<path d="M365.30,387.62 L366.81,387.37 L368.32,387.16 L369.83,386.99 L371.34,386.85 L372.85,386.75 L374.36,386.69 L375.87,386.66 L377.38,386.66 L378.89,386.70 L380.40,386.77 L381.91,386.87 L383.42,387.00 L384.93,387.16 L386.44,387.35 L387.95,387.57 L389.46,387.81 L390.97,388.08 L392.48,388.37 L393.99,388.69 L395.50,389.04 L397.01,389.40 L398.52,389.79 L400.03,390.19 L401.54,390.62 L403.05,391.07 L404.56,391.53 L406.07,392.02 L407.58,392.52 L409.09,393.03 L410.60,393.56 L412.11,394.10 L413.62,394.66 L415.13,395.23 L416.63,395.81 L418.14,396.40 L419.65,397.00 L421.16,397.61 L422.67,398.23 L424.18,398.86 L425.69,399.49 L427.20,400.13 L428.71,400.77 L430.22,401.42 L431.73,402.07 L433.24,402.73 L434.75,403.39 L436.26,404.05 L437.77,404.72 L439.28,405.39 L440.79,406.07 L442.30,406.74 L443.81,407.42 L445.32,408.10 L446.83,408.78 L448.34,409.47 L449.85,410.15 L451.36,410.83 L452.87,411.51 L454.38,412.19 L455.89,412.87 L457.40,413.55 L458.91,414.23 L460.42,414.90 L461.93,415.57 L463.44,416.24 L464.95,416.91 L466.46,417.57 L467.97,418.23 L469.48,418.88 L470.99,419.53 L472.50,420.17 L474.01,420.81 L475.52,421.44 L477.03,422.06 L478.54,422.68 L480.05,423.29 L481.56,423.90 L483.07,424.49 L484.58,425.08 L486.09,425.66 L487.60,426.23 L489.11,426.79 L490.62,427.34 L492.13,427.88 L493.64,428.41 L495.15,428.93 L496.66,429.44 L498.17,429.93 L499.68,430.42 L501.19,430.89 L502.70,431.35 L504.21,431.80 L505.72,432.24 L507.23,432.66 L508.74,433.08 L510.25,433.48 L511.76,433.87 L513.27,434.25 L514.78,434.63 L516.29,434.99 L517.80,435.34 L519.30,435.68 L520.81,436.02 L522.32,436.34 L523.83,436.66 L525.34,436.97 L526.85,437.27 L528.36,437.56 L529.87,437.85 L531.38,438.13 L532.89,438.40 L534.40,438.66 L535.91,438.92 L537.42,439.17 L538.93,439.42 L540.44,439.66 L541.95,439.89 L543.46,440.12 L544.97,440.35 L546.48,440.57 L547.99,440.78 L549.50,440.99 L551.01,441.20 L552.52,441.40 L554.03,441.60 L555.54,441.80 L557.05,442.00 L558.56,442.19 L560.07,442.38 L561.58,442.57 L563.09,442.75 L564.60,442.94 L566.11,443.12 L567.62,443.31 L569.13,443.49 L570.64,443.67 L572.15,443.85 L573.66,444.03 L575.17,444.21 L576.68,444.40 L578.19,444.58 L579.70,444.76 L581.21,444.95 L582.72,445.14 L584.23,445.32 L585.74,445.52 L587.25,445.71 L588.76,445.91 L590.27,446.11 L591.78,446.31 L593.29,446.51 L594.80,446.72 L596.31,446.94 L597.82,447.16 L599.33,447.38 L600.84,447.61 L602.35,447.84 L603.86,448.08 L605.37,448.32 L606.88,448.57 L608.39,448.82 L609.90,449.08 L611.41,449.35 L612.92,449.62 L614.43,449.90 L615.94,450.18 L617.45,450.48 L618.96,450.77 L620.47,451.08 L621.97,451.39 L623.48,451.71 L624.99,452.04 L626.50,452.38 L628.01,452.72 L629.52,453.08 L631.03,453.44 L632.54,453.81 L634.05,454.18 L635.56,454.57 L637.07,454.97 L638.58,455.37 L640.09,455.79 L641.60,456.21 L643.11,456.65 L644.62,457.10 L646.13,457.56 L647.64,458.05 L649.15,458.56 L650.66,459.09 L652.17,459.65 L653.68,460.23 L655.19,460.85 L656.70,461.50 L658.21,462.19 L659.72,462.91 L661.23,463.68 L662.74,464.48 L664.25,465.33 L665.76,466.23 L667.27,467.18 L668.78,468.18 L670.29,469.23 L671.80,470.34" fill="none" stroke="#1a1aff" stroke-width="1.4" stroke-dasharray="4.8 3.6"/>
<line x1="366.00" y1="531.15" x2="366.00" y2="538.15" stroke="#2a2a2a" stroke-width="1.2"/>
<text x="366.00" y="554.9499999999999" text-anchor="middle">2010</text>
<line x1="416.88" y1="531.15" x2="416.88" y2="538.15" stroke="#2a2a2a" stroke-width="1.2"/>
<text x="416.88" y="554.9499999999999" text-anchor="middle">2012</text>
<line x1="467.76" y1="531.15" x2="467.76" y2="538.15" stroke="#2a2a2a" stroke-width="1.2"/>
<text x="467.76" y="554.9499999999999" text-anchor="middle">2014</text>
<line x1="518.64" y1="531.15" x2="518.64" y2="538.15" stroke="#2a2a2a" stroke-width="1.2"/>
<text x="518.64" y="554.9499999999999" text-anchor="middle">2016</text>
<line x1="569.52" y1="531.15" x2="569.52" y2="538.15" stroke="#2a2a2a" stroke-width="1.2"/>
<text x="569.52" y="554.9499999999999" text-anchor="middle">2018</text>
<line x1="620.40" y1="531.15" x2="620.40" y2="538.15" stroke="#2a2a2a" stroke-width="1.2"/>
<text x="620.40" y="554.9499999999999" text-anchor="middle">2020</text>
<line x1="671.28" y1="531.15" x2="671.28" y2="538.15" stroke="#2a2a2a" stroke-width="1.2"/>
<text x="671.28" y="554.9499999999999" text-anchor="middle">2022</text>
<text x="518.5" y="580.25" text-anchor="middle">Year</text>
<path d="M366.00,521.15V531.65M391.44,521.15V531.65M416.88,521.15V531.65M442.32,521.15V531.65M467.76,521.15V531.65M493.20,521.15V531.65M518.64,521.15V531.65M544.08,521.15V531.65M569.52,521.15V531.65M594.96,521.15V531.65M620.40,521.15V531.65M645.84,521.15V531.65M671.28,521.15V531.65" stroke="#1a1aff" stroke-width="0.9" fill="none" stroke-opacity="0.8"/>
<rect x="3.5" y="397.4" width="329.95" height="133.75" fill="none" stroke="#2a2a2a" stroke-width="1.2"/>
<path d="M15.30,452.52 L16.81,452.05 L18.32,451.57 L19.83,451.10 L21.34,450.63 L22.85,450.17 L24.36,449.71 L25.87,449.25 L27.38,448.80 L28.89,448.35 L30.40,447.91 L31.91,447.48 L33.42,447.05 L34.93,446.63 L36.44,446.22 L37.96,445.82 L39.47,445.42 L40.98,445.04 L42.49,444.67 L44.00,444.31 L45.51,443.96 L47.02,443.62 L48.53,443.29 L50.04,442.98 L51.55,442.68 L53.06,442.40 L54.57,442.13 L56.08,441.88 L57.59,441.64 L59.10,441.42 L60.61,441.22 L62.12,441.04 L63.63,440.87 L65.14,440.72 L66.65,440.60 L68.16,440.49 L69.67,440.40 L71.18,440.34 L72.69,440.29 L74.20,440.27 L75.71,440.26 L77.22,440.27 L78.73,440.30 L80.24,440.35 L81.76,440.41 L83.27,440.48 L84.78,440.57 L86.29,440.67 L87.80,440.78 L89.31,440.91 L90.82,441.04 L92.33,441.18 L93.84,441.33 L95.35,441.49 L96.86,441.65 L98.37,441.82 L99.88,441.99 L101.39,442.16 L102.90,442.34 L104.41,442.52 L105.92,442.70 L107.43,442.88 L108.94,443.06 L110.45,443.23 L111.96,443.41 L113.47,443.58 L114.98,443.74 L116.49,443.90 L118.00,444.05 L119.51,444.20 L121.02,444.33 L122.53,444.46 L124.04,444.58 L125.56,444.68 L127.07,444.78 L128.58,444.86 L130.09,444.92 L131.60,444.97 L133.11,445.01 L134.62,445.03 L136.13,445.04 L137.64,445.04 L139.15,445.03 L140.66,445.00 L142.17,444.96 L143.68,444.92 L145.19,444.86 L146.70,444.79 L148.21,444.72 L149.72,444.64 L151.23,444.54 L152.74,444.45 L154.25,444.34 L155.76,444.23 L157.27,444.11 L158.78,443.99 L160.29,443.87 L161.80,443.74 L163.31,443.60 L164.82,443.47 L166.33,443.33 L167.84,443.19 L169.36,443.05 L170.87,442.91 L172.38,442.77 L173.89,442.63 L175.40,442.49 L176.91,442.35 L178.42,442.22 L179.93,442.08 L181.44,441.95 L182.95,441.83 L184.46,441.70 L185.97,441.59 L187.48,441.48 L188.99,441.37 L190.50,441.27 L192.01,441.18 L193.52,441.10 L195.03,441.02 L196.54,440.95 L198.05,440.90 L199.56,440.85 L201.07,440.81 L202.58,440.78 L204.09,440.77 L205.60,440.77 L207.11,440.78 L208.62,440.80 L210.13,440.83 L211.64,440.88 L213.16,440.95 L214.67,441.03 L216.18,441.13 L217.69,441.24 L219.20,441.37 L220.71,441.52 L222.22,441.68 L223.73,441.86 L225.24,442.07 L226.75,442.29 L228.26,442.53 L229.77,442.79 L231.28,443.07 L232.79,443.37 L234.30,443.69 L235.81,444.04 L237.32,444.40 L238.83,444.79 L240.34,445.20 L241.85,445.63 L243.36,446.09 L244.87,446.57 L246.38,447.07 L247.89,447.60 L249.40,448.15 L250.91,448.73 L252.42,449.32 L253.93,449.93 L255.44,450.56 L256.96,451.21 L258.47,451.86 L259.98,452.53 L261.49,453.20 L263.00,453.89 L264.51,454.57 L266.02,455.27 L267.53,455.96 L269.04,456.65 L270.55,457.34 L272.06,458.03 L273.57,458.71 L275.08,459.39 L276.59,460.06 L278.10,460.73 L279.61,461.40 L281.12,462.06 L282.63,462.72 L284.14,463.37 L285.65,464.02 L287.16,464.67 L288.67,465.31 L290.18,465.94 L291.69,466.57 L293.20,467.20 L294.71,467.82 L296.22,468.43 L297.73,469.04 L299.24,469.64 L300.76,470.24 L302.27,470.83 L303.78,471.41 L305.29,471.99 L306.80,472.57 L308.31,473.13 L309.82,473.69 L311.33,474.25 L312.84,474.79 L314.35,475.33 L315.86,475.87 L317.37,476.39 L318.88,476.91 L320.39,477.43 L321.90,477.93" fill="none" stroke="#1a1aff" stroke-width="1.4"/>
<path d="M15.30,443.59 L16.81,443.42 L18.32,443.24 L19.83,443.04 L21.34,442.82 L22.85,442.59 L24.36,442.35 L25.87,442.10 L27.38,441.84 L28.89,441.56 L30.40,441.28 L31.91,440.99 L33.42,440.70 L34.93,440.40 L36.44,440.10 L37.95,439.80 L39.46,439.50 L40.97,439.19 L42.48,438.89 L43.99,438.59 L45.50,438.29 L47.01,438.00 L48.52,437.71 L50.03,437.43 L51.54,437.16 L53.05,436.90 L54.56,436.64 L56.07,436.40 L57.58,436.17 L59.09,435.96 L60.60,435.76 L62.11,435.57 L63.62,435.40 L65.13,435.26 L66.63,435.13 L68.14,435.02 L69.65,434.93 L71.16,434.86 L72.67,434.82 L74.18,434.80 L75.69,434.80 L77.20,434.82 L78.71,434.85 L80.22,434.91 L81.73,434.98 L83.24,435.06 L84.75,435.16 L86.26,435.27 L87.77,435.40 L89.28,435.53 L90.79,435.68 L92.30,435.84 L93.81,436.00 L95.32,436.17 L96.83,436.35 L98.34,436.53 L99.85,436.72 L101.36,436.91 L102.87,437.10 L104.38,437.29 L105.89,437.48 L107.40,437.68 L108.91,437.87 L110.42,438.06 L111.93,438.24 L113.44,438.42 L114.95,438.59 L116.46,438.76 L117.97,438.92 L119.48,439.07 L120.99,439.21 L122.50,439.34 L124.01,439.46 L125.52,439.56 L127.03,439.65 L128.54,439.73 L130.05,439.79 L131.56,439.83 L133.07,439.86 L134.58,439.87 L136.09,439.87 L137.60,439.85 L139.11,439.82 L140.62,439.78 L142.13,439.72 L143.64,439.65 L145.15,439.58 L146.66,439.49 L148.17,439.39 L149.68,439.28 L151.19,439.17 L152.70,439.05 L154.21,438.92 L155.72,438.78 L157.23,438.64 L158.74,438.50 L160.25,438.35 L161.76,438.20 L163.27,438.04 L164.78,437.89 L166.29,437.73 L167.80,437.57 L169.30,437.41 L170.81,437.25 L172.32,437.09 L173.83,436.93 L175.34,436.78 L176.85,436.63 L178.36,436.48 L179.87,436.34 L181.38,436.21 L182.89,436.08 L184.40,435.95 L185.91,435.83 L187.42,435.72 L188.93,435.62 L190.44,435.53 L191.95,435.45 L193.46,435.38 L194.97,435.32 L196.48,435.26 L197.99,435.22 L199.50,435.19 L201.01,435.16 L202.52,435.15 L204.03,435.15 L205.54,435.15 L207.05,435.17 L208.56,435.19 L210.07,435.22 L211.58,435.27 L213.09,435.32 L214.60,435.38 L216.11,435.45 L217.62,435.53 L219.13,435.63 L220.64,435.73 L222.15,435.83 L223.66,435.95 L225.17,436.08 L226.68,436.22 L228.19,436.37 L229.70,436.52 L231.21,436.69 L232.72,436.86 L234.23,437.04 L235.74,437.23 L237.25,437.42 L238.76,437.62 L240.27,437.82 L241.78,438.02 L243.29,438.22 L244.80,438.42 L246.31,438.62 L247.82,438.82 L249.33,439.01 L250.84,439.20 L252.35,439.38 L253.86,439.55 L255.37,439.72 L256.88,439.87 L258.39,440.02 L259.90,440.15 L261.41,440.27 L262.92,440.37 L264.43,440.47 L265.94,440.54 L267.45,440.60 L268.96,440.63 L270.47,440.65 L271.97,440.65 L273.48,440.63 L274.99,440.58 L276.50,440.51 L278.01,440.42 L279.52,440.30 L281.03,440.16 L282.54,440.01 L284.05,439.83 L285.56,439.62 L287.07,439.40 L288.58,439.16 L290.09,438.90 L291.60,438.62 L293.11,438.32 L294.62,438.00 L296.13,437.66 L297.64,437.30 L299.15,436.92 L300.66,436.53 L302.17,436.12 L303.68,435.69 L305.19,435.24 L306.70,434.78 L308.21,434.31 L309.72,433.81 L311.23,433.30 L312.74,432.78 L314.25,432.24 L315.76,431.68 L317.27,431.11 L318.78,430.53 L320.29,429.93 L321.80,429.32" fill="none" stroke="#1a1aff" stroke-width="1.4" stroke-dasharray="4.8 3.6"/>
<path d="M15.30,462.25 L16.81,461.47 L18.32,460.70 L19.83,459.94 L21.34,459.21 L22.85,458.49 L24.36,457.79 L25.87,457.10 L27.38,456.44 L28.89,455.79 L30.40,455.16 L31.91,454.55 L33.42,453.96 L34.93,453.39 L36.44,452.84 L37.95,452.31 L39.46,451.79 L40.97,451.30 L42.48,450.83 L43.99,450.38 L45.50,449.94 L47.01,449.53 L48.52,449.14 L50.03,448.77 L51.54,448.42 L53.05,448.09 L54.56,447.79 L56.07,447.50 L57.58,447.24 L59.09,447.00 L60.60,446.78 L62.11,446.59 L63.62,446.41 L65.13,446.26 L66.63,446.14 L68.14,446.03 L69.65,445.95 L71.16,445.90 L72.67,445.86 L74.18,445.85 L75.69,445.86 L77.20,445.89 L78.71,445.93 L80.22,446.00 L81.73,446.08 L83.24,446.18 L84.75,446.29 L86.26,446.41 L87.77,446.55 L89.28,446.70 L90.79,446.86 L92.30,447.03 L93.81,447.20 L95.32,447.39 L96.83,447.58 L98.34,447.77 L99.85,447.97 L101.36,448.17 L102.87,448.38 L104.38,448.58 L105.89,448.79 L107.40,448.99 L108.91,449.19 L110.42,449.39 L111.93,449.59 L113.44,449.77 L114.95,449.96 L116.46,450.13 L117.97,450.30 L119.48,450.46 L120.99,450.60 L122.50,450.74 L124.01,450.86 L125.52,450.97 L127.03,451.07 L128.54,451.15 L130.05,451.21 L131.56,451.25 L133.07,451.28 L134.58,451.29 L136.09,451.29 L137.60,451.27 L139.11,451.24 L140.62,451.19 L142.13,451.13 L143.64,451.06 L145.15,450.97 L146.66,450.88 L148.17,450.77 L149.68,450.66 L151.19,450.53 L152.70,450.40 L154.21,450.26 L155.72,450.12 L157.23,449.97 L158.74,449.81 L160.25,449.65 L161.76,449.48 L163.27,449.31 L164.78,449.14 L166.29,448.96 L167.80,448.79 L169.30,448.61 L170.81,448.44 L172.32,448.26 L173.83,448.09 L175.34,447.91 L176.85,447.74 L178.36,447.58 L179.87,447.42 L181.38,447.26 L182.89,447.11 L184.40,446.96 L185.91,446.83 L187.42,446.69 L188.93,446.57 L190.44,446.46 L191.95,446.35 L193.46,446.26 L194.97,446.18 L196.48,446.11 L197.99,446.05 L199.50,446.00 L201.01,445.97 L202.52,445.95 L204.03,445.95 L205.54,445.96 L207.05,445.99 L208.56,446.04 L210.07,446.11 L211.58,446.19 L213.09,446.29 L214.60,446.41 L216.11,446.56 L217.62,446.72 L219.13,446.91 L220.64,447.11 L222.15,447.35 L223.66,447.60 L225.17,447.88 L226.68,448.19 L228.19,448.52 L229.70,448.88 L231.21,449.27 L232.72,449.68 L234.23,450.13 L235.74,450.61 L237.25,451.12 L238.76,451.66 L240.27,452.24 L241.78,452.85 L243.29,453.50 L244.80,454.18 L246.31,454.91 L247.82,455.67 L249.33,456.47 L250.84,457.31 L252.35,458.18 L253.86,459.09 L255.37,460.04 L256.88,461.03 L258.39,462.05 L259.90,463.10 L261.41,464.19 L262.92,465.32 L264.43,466.48 L265.94,467.68 L267.45,468.91 L268.96,470.17 L270.47,471.46 L271.97,472.79 L273.48,474.14 L274.99,475.52 L276.50,476.93 L278.01,478.37 L279.52,479.83 L281.03,481.31 L282.54,482.81 L284.05,484.33 L285.56,485.88 L287.07,487.44 L288.58,489.02 L290.09,490.61 L291.60,492.21 L293.11,493.83 L294.62,495.46 L296.13,497.10 L297.64,498.75 L299.15,500.41 L300.66,502.07 L302.17,503.74 L303.68,505.41 L305.19,507.08 L306.70,508.76 L308.21,510.43 L309.72,512.11 L311.23,513.78 L312.74,515.44 L314.25,517.10 L315.76,518.76 L317.27,520.40 L318.78,522.04 L320.29,523.67 L321.80,525.28" fill="none" stroke="#1a1aff" stroke-width="1.4" stroke-dasharray="4.8 3.6"/>
<line x1="15.30" y1="531.15" x2="15.30" y2="538.15" stroke="#2a2a2a" stroke-width="1.2"/>
<text x="15.30" y="554.9499999999999" text-anchor="middle">0</text>
<line x1="57.95" y1="531.15" x2="57.95" y2="538.15" stroke="#2a2a2a" stroke-width="1.2"/>
<text x="57.95" y="554.9499999999999" text-anchor="middle">5</text>
<line x1="100.61" y1="531.15" x2="100.61" y2="538.15" stroke="#2a2a2a" stroke-width="1.2"/>
<text x="100.61" y="554.9499999999999" text-anchor="middle">10</text>
<line x1="143.27" y1="531.15" x2="143.27" y2="538.15" stroke="#2a2a2a" stroke-width="1.2"/>
<text x="143.27" y="554.9499999999999" text-anchor="middle">15</text>
<line x1="185.92" y1="531.15" x2="185.92" y2="538.15" stroke="#2a2a2a" stroke-width="1.2"/>
<text x="185.92" y="554.9499999999999" text-anchor="middle">20</text>
<line x1="228.58" y1="531.15" x2="228.58" y2="538.15" stroke="#2a2a2a" stroke-width="1.2"/>
<text x="228.58" y="554.9499999999999" text-anchor="middle">25</text>
<line x1="271.23" y1="531.15" x2="271.23" y2="538.15" stroke="#2a2a2a" stroke-width="1.2"/>
<text x="271.23" y="554.9499999999999" text-anchor="middle">30</text>
<line x1="313.89" y1="531.15" x2="313.89" y2="538.15" stroke="#2a2a2a" stroke-width="1.2"/>
<text x="313.89" y="554.9499999999999" text-anchor="middle">35</text>
<text x="168.5" y="580.25" text-anchor="middle">Salinity</text>
<path d="M15.50,527.05V531.65M16.36,527.05V531.65M17.13,527.05V531.65M17.80,527.05V531.65M18.48,527.05V531.65M19.40,527.05V531.65M20.01,527.05V531.65M20.86,527.05V531.65M21.87,527.05V531.65M22.47,527.05V531.65M23.25,527.05V531.65M24.25,527.05V531.65M25.15,527.05V531.65M25.83,527.05V531.65M26.44,527.05V531.65M27.45,527.05V531.65M28.32,527.05V531.65M29.20,527.05V531.65M29.74,527.05V531.65M30.58,527.05V531.65M31.50,527.05V531.65M32.33,527.05V531.65M33.06,527.05V531.65M33.83,527.05V531.65M34.53,527.05V531.65M35.21,527.05V531.65M36.25,527.05V531.65M37.01,527.05V531.65M37.65,527.05V531.65M38.66,527.05V531.65M39.20,527.05V531.65M40.04,527.05V531.65M40.89,527.05V531.65M41.84,527.05V531.65M42.65,527.05V531.65M43.25,527.05V531.65M44.10,527.05V531.65M44.84,527.05V531.65M45.95,527.05V531.65M46.56,527.05V531.65M47.20,527.05V531.65M48.22,527.05V531.65M49.06,527.05V531.65M49.97,527.05V531.65M50.50,527.05V531.65M51.22,527.05V531.65M52.16,527.05V531.65M52.82,527.05V531.65M53.60,527.05V531.65M54.78,527.05V531.65M55.28,527.05V531.65M56.20,527.05V531.65M57.13,527.05V531.65M57.72,527.05V531.65M58.42,527.05V531.65M59.51,527.05V531.65M60.00,527.05V531.65M61.10,527.05V531.65M61.90,527.05V531.65M62.49,527.05V531.65M63.29,527.05V531.65M64.13,527.05V531.65M65.08,527.05V531.65M65.88,527.05V531.65M66.62,527.05V531.65M67.52,527.05V531.65M68.11,527.05V531.65M69.19,527.05V531.65M69.95,527.05V531.65M70.50,527.05V531.65M71.50,527.05V531.65M72.30,527.05V531.65M73.15,527.05V531.65M73.70,527.05V531.65M74.65,527.05V531.65M75.47,527.05V531.65M76.19,527.05V531.65M77.08,527.05V531.65M77.77,527.05V531.65M78.63,527.05V531.65M79.28,527.05V531.65M80.03,527.05V531.65M80.86,527.05V531.65M81.64,527.05V531.65M82.54,527.05V531.65M83.21,527.05V531.65M84.28,527.05V531.65M85.08,527.05V531.65M85.63,527.05V531.65M86.55,527.05V531.65M87.53,527.05V531.65M88.03,527.05V531.65M89.17,527.05V531.65M89.64,527.05V531.65M90.44,527.05V531.65M91.54,527.05V531.65M92.25,527.05V531.65M93.05,527.05V531.65M93.64,527.05V531.65M94.70,527.05V531.65M95.33,527.05V531.65M96.01,527.05V531.65M96.91,527.05V531.65M97.75,527.05V531.65M98.79,527.05V531.65M99.54,527.05V531.65M100.01,527.05V531.65M100.97,527.05V531.65M101.74,527.05V531.65M102.62,527.05V531.65M103.54,527.05V531.65M104.33,527.05V531.65M104.80,527.05V531.65M105.90,527.05V531.65M106.40,527.05V531.65M107.40,527.05V531.65M108.07,527.05V531.65M108.94,527.05V531.65M109.70,527.05V531.65M110.51,527.05V531.65M111.48,527.05V531.65M112.04,527.05V531.65M112.83,527.05V531.65M113.88,527.05V531.65M114.65,527.05V531.65M115.36,527.05V531.65M116.36,527.05V531.65M117.16,527.05V531.65M117.68,527.05V531.65M118.76,527.05V531.65M119.35,527.05V531.65M120.09,527.05V531.65M121.01,527.05V531.65M121.90,527.05V531.65M122.54,527.05V531.65M123.26,527.05V531.65M124.26,527.05V531.65M124.87,527.05V531.65M125.91,527.05V531.65M126.45,527.05V531.65M127.55,527.05V531.65M128.08,527.05V531.65M129.08,527.05V531.65M129.66,527.05V531.65M130.50,527.05V531.65M131.41,527.05V531.65M132.13,527.05V531.65M133.19,527.05V531.65M133.64,527.05V531.65M134.44,527.05V531.65M135.59,527.05V531.65M136.29,527.05V531.65M136.88,527.05V531.65M137.64,527.05V531.65M138.56,527.05V531.65M139.36,527.05V531.65M140.28,527.05V531.65M141.05,527.05V531.65M141.66,527.05V531.65M142.56,527.05V531.65M143.56,527.05V531.65M144.23,527.05V531.65M144.97,527.05V531.65M145.89,527.05V531.65M146.71,527.05V531.65M147.54,527.05V531.65M148.26,527.05V531.65M148.93,527.05V531.65M149.64,527.05V531.65M150.71,527.05V531.65M151.45,527.05V531.65M152.17,527.05V531.65M153.05,527.05V531.65M153.87,527.05V531.65M154.47,527.05V531.65M155.51,527.05V531.65M156.20,527.05V531.65M156.82,527.05V531.65M157.66,527.05V531.65M158.78,527.05V531.65M159.24,527.05V531.65M160.22,527.05V531.65M161.00,527.05V531.65M161.93,527.05V531.65M162.56,527.05V531.65M163.28,527.05V531.65M164.16,527.05V531.65M164.85,527.05V531.65M165.74,527.05V531.65M166.51,527.05V531.65M167.21,527.05V531.65M168.17,527.05V531.65M168.94,527.05V531.65M169.69,527.05V531.65M170.78,527.05V531.65M171.29,527.05V531.65M172.16,527.05V531.65M172.85,527.05V531.65M173.92,527.05V531.65M174.59,527.05V531.65M175.29,527.05V531.65M176.14,527.05V531.65M177.13,527.05V531.65M177.79,527.05V531.65M178.62,527.05V531.65M179.53,527.05V531.65M180.34,527.05V531.65M180.95,527.05V531.65M181.77,527.05V531.65M182.40,527.05V531.65M183.31,527.05V531.65M184.12,527.05V531.65M184.97,527.05V531.65M185.86,527.05V531.65M186.77,527.05V531.65M187.22,527.05V531.65M188.36,527.05V531.65M188.86,527.05V531.65M189.85,527.05V531.65M190.40,527.05V531.65M191.46,527.05V531.65M192.04,527.05V531.65M192.89,527.05V531.65M193.74,527.05V531.65M194.76,527.05V531.65M195.27,527.05V531.65M196.24,527.05V531.65M197.07,527.05V531.65M197.92,527.05V531.65M198.48,527.05V531.65M199.41,527.05V531.65M200.18,527.05V531.65M201.02,527.05V531.65M201.69,527.05V531.65M202.60,527.05V531.65M203.39,527.05V531.65M204.20,527.05V531.65M205.02,527.05V531.65M205.60,527.05V531.65M206.59,527.05V531.65M207.47,527.05V531.65M208.15,527.05V531.65M209.18,527.05V531.65M209.85,527.05V531.65M210.41,527.05V531.65M211.47,527.05V531.65M212.13,527.05V531.65M213.00,527.05V531.65M213.96,527.05V531.65M214.69,527.05V531.65M215.34,527.05V531.65M216.15,527.05V531.65M217.01,527.05V531.65M217.68,527.05V531.65M218.57,527.05V531.65M219.53,527.05V531.65M220.33,527.05V531.65M221.00,527.05V531.65M221.80,527.05V531.65M222.66,527.05V531.65M223.33,527.05V531.65M224.12,527.05V531.65M225.05,527.05V531.65M225.62,527.05V531.65M226.75,527.05V531.65M227.22,527.05V531.65M228.00,527.05V531.65M229.17,527.05V531.65M229.86,527.05V531.65M230.76,527.05V531.65M231.45,527.05V531.65M232.28,527.05V531.65M233.07,527.05V531.65M233.87,527.05V531.65M234.71,527.05V531.65M235.27,527.05V531.65M236.31,527.05V531.65M237.06,527.05V531.65M237.93,527.05V531.65M238.62,527.05V531.65M239.32,527.05V531.65M240.13,527.05V531.65M241.06,527.05V531.65M241.62,527.05V531.65M242.42,527.05V531.65M243.52,527.05V531.65M244.37,527.05V531.65M244.81,527.05V531.65M245.84,527.05V531.65M246.79,527.05V531.65M247.36,527.05V531.65M248.26,527.05V531.65M248.86,527.05V531.65M249.60,527.05V531.65M250.45,527.05V531.65M251.24,527.05V531.65M252.05,527.05V531.65M253.09,527.05V531.65M253.89,527.05V531.65M254.42,527.05V531.65M255.49,527.05V531.65M256.29,527.05V531.65M257.05,527.05V531.65M257.78,527.05V531.65M258.50,527.05V531.65M259.49,527.05V531.65M260.01,527.05V531.65M261.13,527.05V531.65M261.72,527.05V531.65M262.47,527.05V531.65M263.39,527.05V531.65M264.15,527.05V531.65M264.98,527.05V531.65M265.66,527.05V531.65M266.55,527.05V531.65M267.45,527.05V531.65M268.15,527.05V531.65M269.18,527.05V531.65M269.83,527.05V531.65M270.42,527.05V531.65M271.48,527.05V531.65M272.13,527.05V531.65M273.19,527.05V531.65M273.84,527.05V531.65M274.57,527.05V531.65M275.35,527.05V531.65M276.24,527.05V531.65M277.12,527.05V531.65M277.60,527.05V531.65M278.57,527.05V531.65M279.53,527.05V531.65M280.02,527.05V531.65M281.12,527.05V531.65M281.83,527.05V531.65M282.74,527.05V531.65M286.40,527.05V531.65M289.10,527.05V531.65M291.00,527.05V531.65M292.80,527.05V531.65M294.70,527.05V531.65M296.20,527.05V531.65M297.40,527.05V531.65M301.50,527.05V531.65M302.10,527.05V531.65M312.00,527.05V531.65M321.60,527.05V531.65" stroke="#1a1aff" stroke-width="1.0" fill="none" stroke-opacity="0.95"/>
<rect x="3.5" y="595.1" width="329.95" height="133.70" fill="none" stroke="#2a2a2a" stroke-width="1.2"/>
<path d="M15.30,650.86 L16.81,650.42 L18.32,649.98 L19.83,649.55 L21.34,649.11 L22.85,648.68 L24.36,648.25 L25.87,647.82 L27.38,647.40 L28.89,646.98 L30.40,646.56 L31.91,646.14 L33.42,645.73 L34.93,645.32 L36.44,644.91 L37.95,644.51 L39.46,644.11 L40.97,643.72 L42.48,643.33 L43.99,642.95 L45.50,642.57 L47.01,642.20 L48.52,641.83 L50.03,641.46 L51.54,641.11 L53.05,640.76 L54.56,640.41 L56.07,640.07 L57.58,639.74 L59.09,639.42 L60.60,639.10 L62.11,638.79 L63.62,638.48 L65.13,638.19 L66.63,637.90 L68.14,637.62 L69.65,637.34 L71.16,637.08 L72.67,636.82 L74.18,636.58 L75.69,636.34 L77.20,636.11 L78.71,635.89 L80.22,635.68 L81.73,635.48 L83.24,635.29 L84.75,635.11 L86.26,634.94 L87.77,634.78 L89.28,634.63 L90.79,634.49 L92.30,634.37 L93.81,634.25 L95.32,634.15 L96.83,634.05 L98.34,633.97 L99.85,633.90 L101.36,633.85 L102.87,633.80 L104.38,633.77 L105.89,633.75 L107.40,633.75 L108.91,633.76 L110.42,633.78 L111.93,633.81 L113.44,633.86 L114.95,633.92 L116.46,633.99 L117.97,634.08 L119.48,634.17 L120.99,634.27 L122.50,634.38 L124.01,634.50 L125.52,634.63 L127.03,634.77 L128.54,634.91 L130.05,635.06 L131.56,635.21 L133.07,635.37 L134.58,635.54 L136.09,635.71 L137.60,635.88 L139.11,636.05 L140.62,636.23 L142.13,636.40 L143.64,636.58 L145.15,636.76 L146.66,636.93 L148.17,637.11 L149.68,637.28 L151.19,637.46 L152.70,637.62 L154.21,637.79 L155.72,637.95 L157.23,638.11 L158.74,638.26 L160.25,638.41 L161.76,638.54 L163.27,638.68 L164.78,638.80 L166.29,638.92 L167.80,639.02 L169.30,639.12 L170.81,639.21 L172.32,639.29 L173.83,639.35 L175.34,639.41 L176.85,639.46 L178.36,639.49 L179.87,639.52 L181.38,639.54 L182.89,639.55 L184.40,639.55 L185.91,639.54 L187.42,639.53 L188.93,639.50 L190.44,639.47 L191.95,639.43 L193.46,639.38 L194.97,639.33 L196.48,639.26 L197.99,639.19 L199.50,639.11 L201.01,639.03 L202.52,638.94 L204.03,638.84 L205.54,638.74 L207.05,638.63 L208.56,638.51 L210.07,638.39 L211.58,638.26 L213.09,638.13 L214.60,637.99 L216.11,637.85 L217.62,637.70 L219.13,637.55 L220.64,637.40 L222.15,637.23 L223.66,637.07 L225.17,636.90 L226.68,636.73 L228.19,636.55 L229.70,636.37 L231.21,636.19 L232.72,636.01 L234.23,635.82 L235.74,635.63 L237.25,635.43 L238.76,635.24 L240.27,635.04 L241.78,634.84 L243.29,634.64 L244.80,634.44 L246.31,634.23 L247.82,634.03 L249.33,633.82 L250.84,633.62 L252.35,633.41 L253.86,633.20 L255.37,632.99 L256.88,632.78 L258.39,632.58 L259.90,632.37 L261.41,632.16 L262.92,631.95 L264.43,631.75 L265.94,631.54 L267.45,631.34 L268.96,631.14 L270.47,630.94 L271.97,630.74 L273.48,630.55 L274.99,630.35 L276.50,630.16 L278.01,629.97 L279.52,629.78 L281.03,629.60 L282.54,629.42 L284.05,629.24 L285.56,629.07 L287.07,628.90 L288.58,628.73 L290.09,628.57 L291.60,628.41 L293.11,628.26 L294.62,628.11 L296.13,627.96 L297.64,627.82 L299.15,627.69 L300.66,627.56 L302.17,627.44 L303.68,627.32 L305.19,627.20 L306.70,627.10 L308.21,627.00 L309.72,626.90 L311.23,626.82 L312.74,626.74 L314.25,626.66 L315.76,626.60 L317.27,626.54 L318.78,626.49 L320.29,626.44 L321.80,626.41" fill="none" stroke="#1a1aff" stroke-width="1.4"/>
<path d="M15.30,646.53 L16.81,646.33 L18.32,646.10 L19.83,645.86 L21.34,645.59 L22.85,645.31 L24.36,645.01 L25.87,644.69 L27.38,644.36 L28.89,644.02 L30.40,643.66 L31.91,643.29 L33.42,642.91 L34.93,642.52 L36.44,642.13 L37.95,641.72 L39.46,641.31 L40.97,640.89 L42.48,640.47 L43.99,640.04 L45.50,639.61 L47.01,639.19 L48.52,638.76 L50.03,638.33 L51.54,637.90 L53.05,637.47 L54.56,637.05 L56.07,636.63 L57.58,636.22 L59.09,635.81 L60.60,635.40 L62.11,635.00 L63.62,634.61 L65.13,634.22 L66.63,633.84 L68.14,633.48 L69.65,633.11 L71.16,632.76 L72.67,632.42 L74.18,632.09 L75.69,631.77 L77.20,631.47 L78.71,631.17 L80.22,630.89 L81.73,630.62 L83.24,630.37 L84.75,630.13 L86.26,629.91 L87.77,629.70 L89.28,629.51 L90.79,629.34 L92.30,629.18 L93.81,629.04 L95.32,628.92 L96.83,628.81 L98.34,628.72 L99.85,628.64 L101.36,628.58 L102.87,628.53 L104.38,628.50 L105.89,628.48 L107.40,628.47 L108.91,628.47 L110.42,628.48 L111.93,628.51 L113.44,628.54 L114.95,628.58 L116.46,628.64 L117.97,628.70 L119.48,628.77 L120.99,628.85 L122.50,628.93 L124.01,629.02 L125.52,629.12 L127.03,629.22 L128.54,629.33 L130.05,629.44 L131.56,629.56 L133.07,629.68 L134.58,629.81 L136.09,629.93 L137.60,630.06 L139.11,630.19 L140.62,630.32 L142.13,630.45 L143.64,630.59 L145.15,630.72 L146.66,630.85 L148.17,630.98 L149.68,631.10 L151.19,631.23 L152.70,631.35 L154.21,631.47 L155.72,631.58 L157.23,631.69 L158.74,631.79 L160.25,631.89 L161.76,631.99 L163.27,632.07 L164.78,632.15 L166.29,632.22 L167.80,632.29 L169.30,632.34 L170.81,632.39 L172.32,632.42 L173.83,632.45 L175.34,632.47 L176.85,632.48 L178.36,632.48 L179.87,632.47 L181.38,632.45 L182.89,632.43 L184.40,632.39 L185.91,632.35 L187.42,632.30 L188.93,632.24 L190.44,632.17 L191.95,632.09 L193.46,632.01 L194.97,631.92 L196.48,631.82 L197.99,631.71 L199.50,631.59 L201.01,631.47 L202.52,631.34 L204.03,631.20 L205.54,631.06 L207.05,630.90 L208.56,630.74 L210.07,630.57 L211.58,630.40 L213.09,630.22 L214.60,630.03 L216.11,629.84 L217.62,629.64 L219.13,629.43 L220.64,629.21 L222.15,628.99 L223.66,628.77 L225.17,628.53 L226.68,628.29 L228.19,628.05 L229.70,627.80 L231.21,627.54 L232.72,627.28 L234.23,627.01 L235.74,626.73 L237.25,626.45 L238.76,626.17 L240.27,625.88 L241.78,625.58 L243.29,625.28 L244.80,624.97 L246.31,624.66 L247.82,624.35 L249.33,624.03 L250.84,623.70 L252.35,623.37 L253.86,623.04 L255.37,622.70 L256.88,622.35 L258.39,622.00 L259.90,621.64 L261.41,621.28 L262.92,620.91 L264.43,620.54 L265.94,620.16 L267.45,619.77 L268.96,619.38 L270.47,618.98 L271.97,618.57 L273.48,618.16 L274.99,617.74 L276.50,617.31 L278.01,616.87 L279.52,616.43 L281.03,615.98 L282.54,615.52 L284.05,615.05 L285.56,614.57 L287.07,614.09 L288.58,613.59 L290.09,613.09 L291.60,612.58 L293.11,612.06 L294.62,611.53 L296.13,610.99 L297.64,610.44 L299.15,609.88 L300.66,609.31 L302.17,608.74 L303.68,608.15 L305.19,607.55 L306.70,606.94 L308.21,606.32 L309.72,605.68 L311.23,605.04 L312.74,604.39 L314.25,603.72 L315.76,603.04 L317.27,602.35 L318.78,601.65 L320.29,600.94 L321.80,600.21" fill="none" stroke="#1a1aff" stroke-width="1.4" stroke-dasharray="4.8 3.6"/>
<path d="M15.30,654.74 L16.81,654.33 L18.32,653.92 L19.83,653.52 L21.34,653.12 L22.85,652.72 L24.36,652.32 L25.87,651.93 L27.38,651.54 L28.89,651.15 L30.40,650.76 L31.91,650.38 L33.42,650.00 L34.93,649.62 L36.44,649.25 L37.95,648.88 L39.46,648.52 L40.97,648.16 L42.48,647.81 L43.99,647.45 L45.50,647.11 L47.01,646.77 L48.52,646.43 L50.03,646.10 L51.54,645.78 L53.05,645.46 L54.56,645.14 L56.07,644.84 L57.58,644.54 L59.09,644.24 L60.60,643.95 L62.11,643.67 L63.62,643.40 L65.13,643.13 L66.63,642.87 L68.14,642.62 L69.65,642.37 L71.16,642.13 L72.67,641.91 L74.18,641.68 L75.69,641.47 L77.20,641.27 L78.71,641.07 L80.22,640.88 L81.73,640.71 L83.24,640.54 L84.75,640.38 L86.26,640.23 L87.77,640.09 L89.28,639.96 L90.79,639.84 L92.30,639.73 L93.81,639.63 L95.32,639.54 L96.83,639.46 L98.34,639.39 L99.85,639.34 L101.36,639.29 L102.87,639.26 L104.38,639.24 L105.89,639.23 L107.40,639.23 L108.91,639.24 L110.42,639.27 L111.93,639.31 L113.44,639.36 L114.95,639.42 L116.46,639.50 L117.97,639.58 L119.48,639.67 L120.99,639.78 L122.50,639.89 L124.01,640.01 L125.52,640.14 L127.03,640.28 L128.54,640.42 L130.05,640.58 L131.56,640.73 L133.07,640.90 L134.58,641.07 L136.09,641.24 L137.60,641.42 L139.11,641.61 L140.62,641.80 L142.13,641.99 L143.64,642.18 L145.15,642.38 L146.66,642.58 L148.17,642.78 L149.68,642.98 L151.19,643.18 L152.70,643.38 L154.21,643.59 L155.72,643.79 L157.23,643.99 L158.74,644.19 L160.25,644.38 L161.76,644.58 L163.27,644.77 L164.78,644.96 L166.29,645.14 L167.80,645.32 L169.30,645.49 L170.81,645.66 L172.32,645.83 L173.83,645.99 L175.34,646.14 L176.85,646.28 L178.36,646.42 L179.87,646.55 L181.38,646.67 L182.89,646.78 L184.40,646.88 L185.91,646.97 L187.42,647.06 L188.93,647.13 L190.44,647.19 L191.95,647.24 L193.46,647.28 L194.97,647.30 L196.48,647.31 L197.99,647.31 L199.50,647.30 L201.01,647.27 L202.52,647.23 L204.03,647.17 L205.54,647.10 L207.05,647.02 L208.56,646.93 L210.07,646.83 L211.58,646.72 L213.09,646.60 L214.60,646.47 L216.11,646.33 L217.62,646.19 L219.13,646.04 L220.64,645.89 L222.15,645.73 L223.66,645.57 L225.17,645.40 L226.68,645.23 L228.19,645.06 L229.70,644.89 L231.21,644.72 L232.72,644.54 L234.23,644.37 L235.74,644.20 L237.25,644.03 L238.76,643.87 L240.27,643.71 L241.78,643.55 L243.29,643.40 L244.80,643.26 L246.31,643.12 L247.82,642.99 L249.33,642.87 L250.84,642.75 L252.35,642.65 L253.86,642.55 L255.37,642.47 L256.88,642.40 L258.39,642.34 L259.90,642.29 L261.41,642.25 L262.92,642.23 L264.43,642.23 L265.94,642.24 L267.45,642.27 L268.96,642.32 L270.47,642.38 L271.97,642.46 L273.48,642.56 L274.99,642.68 L276.50,642.82 L278.01,642.99 L279.52,643.17 L281.03,643.38 L282.54,643.61 L284.05,643.86 L285.56,644.13 L287.07,644.42 L288.58,644.73 L290.09,645.05 L291.60,645.39 L293.11,645.74 L294.62,646.11 L296.13,646.49 L297.64,646.88 L299.15,647.27 L300.66,647.68 L302.17,648.09 L303.68,648.51 L305.19,648.93 L306.70,649.36 L308.21,649.79 L309.72,650.22 L311.23,650.65 L312.74,651.08 L314.25,651.50 L315.76,651.93 L317.27,652.34 L318.78,652.76 L320.29,653.16 L321.80,653.56" fill="none" stroke="#1a1aff" stroke-width="1.4" stroke-dasharray="4.8 3.6"/>
<line x1="15.40" y1="728.8" x2="15.40" y2="735.8" stroke="#2a2a2a" stroke-width="1.2"/>
<text x="15.40" y="752.5999999999999" text-anchor="middle">0e+00</text>
<line x1="71.78" y1="728.8" x2="71.78" y2="735.8" stroke="#2a2a2a" stroke-width="1.2"/>
<text x="71.78" y="752.5999999999999" text-anchor="middle">1e+06</text>
<line x1="128.16" y1="728.8" x2="128.16" y2="735.8" stroke="#2a2a2a" stroke-width="1.2"/>
<text x="128.16" y="752.5999999999999" text-anchor="middle">2e+06</text>
<line x1="184.54" y1="728.8" x2="184.54" y2="735.8" stroke="#2a2a2a" stroke-width="1.2"/>
<text x="184.54" y="752.5999999999999" text-anchor="middle">3e+06</text>
<line x1="240.92" y1="728.8" x2="240.92" y2="735.8" stroke="#2a2a2a" stroke-width="1.2"/>
<text x="240.92" y="752.5999999999999" text-anchor="middle">4e+06</text>
<line x1="297.30" y1="728.8" x2="297.30" y2="735.8" stroke="#2a2a2a" stroke-width="1.2"/>
<text x="297.30" y="752.5999999999999" text-anchor="middle">5e+06</text>
<text x="168.5" y="778.10" text-anchor="middle">Mangrove (Sum of nearest neighbor)</text>
<path d="M15.44,724.80V729.30M15.97,724.80V729.30M16.61,724.80V729.30M17.14,724.80V729.30M17.89,724.80V729.30M18.42,724.80V729.30M18.99,724.80V729.30M19.55,724.80V729.30M20.26,724.80V729.30M20.72,724.80V729.30M21.45,724.80V729.30M22.02,724.80V729.30M22.68,724.80V729.30M23.20,724.80V729.30M23.74,724.80V729.30M24.34,724.80V729.30M24.97,724.80V729.30M25.58,724.80V729.30M26.13,724.80V729.30M26.90,724.80V729.30M27.32,724.80V729.30M28.06,724.80V729.30M28.62,724.80V729.30M29.20,724.80V729.30M29.71,724.80V729.30M30.47,724.80V729.30M31.01,724.80V729.30M31.66,724.80V729.30M32.29,724.80V729.30M32.86,724.80V729.30M33.35,724.80V729.30M33.94,724.80V729.30M34.52,724.80V729.30M35.21,724.80V729.30M35.79,724.80V729.30M36.48,724.80V729.30M37.02,724.80V729.30M37.52,724.80V729.30M38.15,724.80V729.30M38.83,724.80V729.30M39.43,724.80V729.30M39.99,724.80V729.30M40.69,724.80V729.30M41.14,724.80V729.30M41.75,724.80V729.30M42.16,724.80V729.30M43.13,724.80V729.30M44.11,724.80V729.30M45.06,724.80V729.30M45.82,724.80V729.30M47.10,724.80V729.30M48.07,724.80V729.30M49.04,724.80V729.30M49.84,724.80V729.30M49.83,724.80V729.30M51.24,724.80V729.30M52.32,724.80V729.30M53.87,724.80V729.30M56.04,724.80V729.30M58.55,724.80V729.30M60.26,724.80V729.30M61.00,724.80V729.30M62.22,724.80V729.30M63.99,724.80V729.30M64.97,724.80V729.30M66.48,724.80V729.30M67.59,724.80V729.30M68.56,724.80V729.30M71.29,724.80V729.30M72.76,724.80V729.30M73.69,724.80V729.30M74.84,724.80V729.30M76.13,724.80V729.30M77.49,724.80V729.30M79.03,724.80V729.30M80.34,724.80V729.30M82.62,724.80V729.30M83.73,724.80V729.30M84.83,724.80V729.30M86.15,724.80V729.30M87.85,724.80V729.30M88.47,724.80V729.30M90.28,724.80V729.30M93.38,724.80V729.30M94.51,724.80V729.30M96.00,724.80V729.30M97.10,724.80V729.30M98.72,724.80V729.30M99.96,724.80V729.30M101.13,724.80V729.30M102.38,724.80V729.30M104.06,724.80V729.30M105.02,724.80V729.30M106.25,724.80V729.30M107.80,724.80V729.30M108.92,724.80V729.30M110.52,724.80V729.30M111.75,724.80V729.30M112.74,724.80V729.30M114.24,724.80V729.30M115.33,724.80V729.30M116.80,724.80V729.30M118.42,724.80V729.30M119.21,724.80V729.30M120.79,724.80V729.30M121.96,724.80V729.30M123.60,724.80V729.30M124.50,724.80V729.30M126.06,724.80V729.30M131.00,724.80V729.30M137.00,724.80V729.30M139.27,724.80V729.30M140.37,724.80V729.30M142.09,724.80V729.30M143.09,724.80V729.30M144.43,724.80V729.30M145.54,724.80V729.30M147.37,724.80V729.30M148.41,724.80V729.30M149.72,724.80V729.30M152.13,724.80V729.30M153.36,724.80V729.30M156.19,724.80V729.30M157.16,724.80V729.30M158.62,724.80V729.30M160.26,724.80V729.30M163.01,724.80V729.30M164.06,724.80V729.30M165.73,724.80V729.30M168.20,724.80V729.30M169.37,724.80V729.30M170.74,724.80V729.30M172.16,724.80V729.30M173.19,724.80V729.30M174.85,724.80V729.30M176.20,724.80V729.30M177.23,724.80V729.30M178.80,724.80V729.30M179.84,724.80V729.30M181.37,724.80V729.30M182.34,724.80V729.30M183.76,724.80V729.30M185.28,724.80V729.30M186.59,724.80V729.30M187.43,724.80V729.30M189.27,724.80V729.30M190.15,724.80V729.30M191.68,724.80V729.30M192.92,724.80V729.30M195.50,724.80V729.30M198.38,724.80V729.30M201.50,724.80V729.30M203.00,724.80V729.30M205.26,724.80V729.30M206.69,724.80V729.30M208.23,724.80V729.30M209.58,724.80V729.30M211.61,724.80V729.30M212.93,724.80V729.30M214.37,724.80V729.30M215.71,724.80V729.30M217.37,724.80V729.30M218.38,724.80V729.30M219.67,724.80V729.30M221.57,724.80V729.30M222.56,724.80V729.30M224.12,724.80V729.30M225.27,724.80V729.30M226.78,724.80V729.30M228.17,724.80V729.30M229.45,724.80V729.30M231.30,724.80V729.30M232.54,724.80V729.30M233.72,724.80V729.30M235.28,724.80V729.30M236.77,724.80V729.30M237.99,724.80V729.30M239.33,724.80V729.30M240.83,724.80V729.30M242.01,724.80V729.30M243.92,724.80V729.30M245.13,724.80V729.30M246.37,724.80V729.30M247.78,724.80V729.30M254.30,724.80V729.30M257.66,724.80V729.30M260.86,724.80V729.30M267.11,724.80V729.30M269.96,724.80V729.30M271.15,724.80V729.30M273.35,724.80V729.30M275.62,724.80V729.30M277.82,724.80V729.30M279.74,724.80V729.30M281.76,724.80V729.30M283.78,724.80V729.30M285.91,724.80V729.30M293.00,724.80V729.30M295.80,724.80V729.30M299.40,724.80V729.30M303.00,724.80V729.30M306.70,724.80V729.30M311.30,724.80V729.30M320.40,724.80V729.30" stroke="#1a1aff" stroke-width="0.95" fill="none" stroke-opacity="0.85"/>
<rect x="353.6" y="595.15" width="329.80" height="133.50" fill="none" stroke="#2a2a2a" stroke-width="1.2"/>
<line x1="381.8" y1="600.0" x2="503.1" y2="600.0" stroke="#1a1aff" stroke-width="3.6" stroke-linecap="round"/>
<line x1="533.9" y1="723.9" x2="656.1" y2="723.9" stroke="#1a1aff" stroke-width="3.4" stroke-linecap="round"/>
<line x1="442.50" y1="728.65" x2="442.50" y2="735.65" stroke="#2a2a2a" stroke-width="1.2"/>
<text x="442.50" y="752.4499999999999" text-anchor="middle">0</text>
<line x1="595.20" y1="728.65" x2="595.20" y2="735.65" stroke="#2a2a2a" stroke-width="1.2"/>
<text x="595.20" y="752.4499999999999" text-anchor="middle">1</text>
<text x="518.5" y="777.95" text-anchor="middle">Developed Shoreline</text>
<line x1="3.5" y1="48.8" x2="333.45" y2="48.8" stroke="#ff0000" stroke-width="1.15"/>
<line x1="353.6" y1="67.9" x2="683.4" y2="67.9" stroke="#ff0000" stroke-width="1.15"/>
<line x1="3.5" y1="265.7" x2="333.45" y2="265.7" stroke="#ff0000" stroke-width="1.15"/>
<line x1="353.6" y1="395.5" x2="683.4" y2="395.5" stroke="#ff0000" stroke-width="1.1"/>
<line x1="3.5" y1="445.0" x2="333.45" y2="445.0" stroke="#ff0000" stroke-width="1.15"/>
<line x1="3.5" y1="642.95" x2="333.45" y2="642.95" stroke="#ff0000" stroke-width="1.15"/>
<line x1="353.6" y1="600.15" x2="683.4" y2="600.15" stroke="#ff0000" stroke-width="1.1"/>
</svg>
</body></html>
